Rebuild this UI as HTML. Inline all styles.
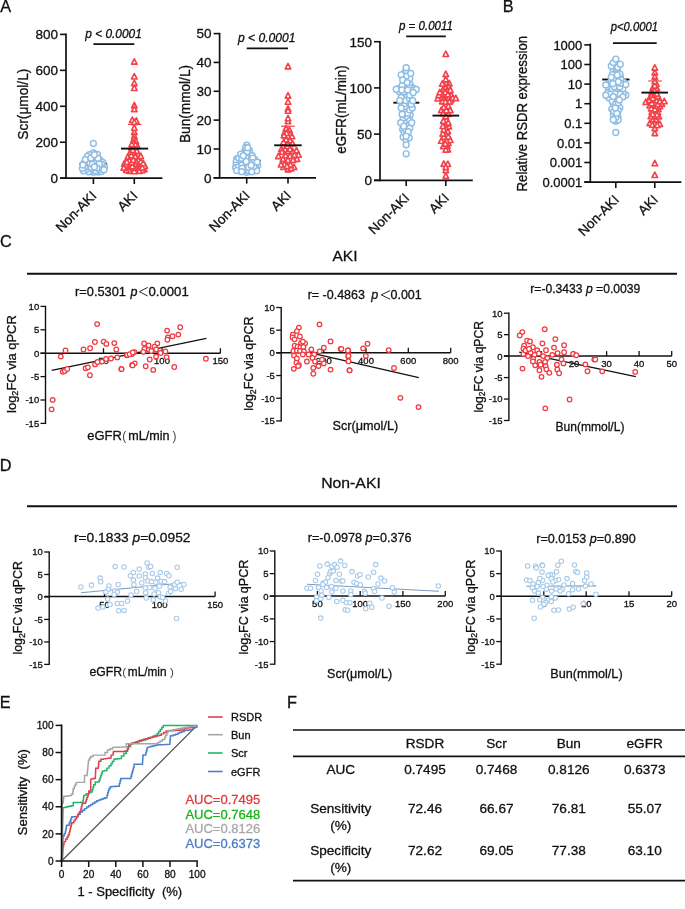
<!DOCTYPE html>
<html><head><meta charset="utf-8"><style>
html,body{margin:0;padding:0;background:#fff;}
svg{display:block;will-change:transform;font-family:"Liberation Sans", sans-serif;}
text{stroke-width:0.3px;}
</style></head><body>
<svg width="685" height="909" viewBox="0 0 685 909" font-family='"Liberation Sans", sans-serif' fill="#111" stroke="#111">
<rect width="685" height="909" fill="#fff" stroke="none"/>
<text x="0.20" y="11.80" font-size="16.3" text-anchor="start" fill="#111" stroke="#111" >A</text>
<text x="502.70" y="11.70" font-size="16.3" text-anchor="start" fill="#111" stroke="#111" >B</text>
<text x="0.00" y="246.50" font-size="16.3" text-anchor="start" fill="#111" stroke="#111" >C</text>
<text x="-0.30" y="470.80" font-size="16.3" text-anchor="start" fill="#111" stroke="#111" >D</text>
<text x="-0.30" y="707.90" font-size="16.3" text-anchor="start" fill="#111" stroke="#111" >E</text>
<text x="286.90" y="707.50" font-size="16.3" text-anchor="start" fill="#111" stroke="#111" >F</text>
<line x1="79.50" y1="163.80" x2="107.20" y2="163.80" stroke="#111" stroke-width="1.9" stroke-linecap="butt"/>
<circle cx="95.90" cy="159.56" r="2.95" fill="#fff" stroke="#8fbde4" stroke-width="1.45"/>
<circle cx="88.90" cy="169.01" r="2.95" fill="#fff" stroke="#8fbde4" stroke-width="1.45"/>
<circle cx="93.40" cy="172.19" r="2.95" fill="#fff" stroke="#8fbde4" stroke-width="1.45"/>
<circle cx="95.90" cy="155.55" r="2.95" fill="#fff" stroke="#8fbde4" stroke-width="1.45"/>
<circle cx="88.90" cy="159.51" r="2.95" fill="#fff" stroke="#8fbde4" stroke-width="1.45"/>
<circle cx="90.90" cy="170.66" r="2.95" fill="#fff" stroke="#8fbde4" stroke-width="1.45"/>
<circle cx="99.90" cy="159.89" r="2.95" fill="#fff" stroke="#8fbde4" stroke-width="1.45"/>
<circle cx="88.40" cy="171.78" r="2.95" fill="#fff" stroke="#8fbde4" stroke-width="1.45"/>
<circle cx="92.40" cy="155.29" r="2.95" fill="#fff" stroke="#8fbde4" stroke-width="1.45"/>
<circle cx="86.40" cy="169.54" r="2.95" fill="#fff" stroke="#8fbde4" stroke-width="1.45"/>
<circle cx="87.90" cy="162.61" r="2.95" fill="#fff" stroke="#8fbde4" stroke-width="1.45"/>
<circle cx="102.90" cy="162.51" r="2.95" fill="#fff" stroke="#8fbde4" stroke-width="1.45"/>
<circle cx="88.40" cy="165.23" r="2.95" fill="#fff" stroke="#8fbde4" stroke-width="1.45"/>
<circle cx="85.90" cy="164.09" r="2.95" fill="#fff" stroke="#8fbde4" stroke-width="1.45"/>
<circle cx="93.90" cy="158.14" r="2.95" fill="#fff" stroke="#8fbde4" stroke-width="1.45"/>
<circle cx="96.90" cy="164.93" r="2.95" fill="#fff" stroke="#8fbde4" stroke-width="1.45"/>
<circle cx="104.40" cy="167.00" r="2.95" fill="#fff" stroke="#8fbde4" stroke-width="1.45"/>
<circle cx="99.40" cy="166.52" r="2.95" fill="#fff" stroke="#8fbde4" stroke-width="1.45"/>
<circle cx="93.40" cy="143.50" r="2.95" fill="#fff" stroke="#8fbde4" stroke-width="1.45"/>
<circle cx="83.90" cy="163.09" r="2.95" fill="#fff" stroke="#8fbde4" stroke-width="1.45"/>
<circle cx="89.90" cy="163.48" r="2.95" fill="#fff" stroke="#8fbde4" stroke-width="1.45"/>
<circle cx="98.40" cy="171.98" r="2.95" fill="#fff" stroke="#8fbde4" stroke-width="1.45"/>
<circle cx="93.40" cy="169.40" r="2.95" fill="#fff" stroke="#8fbde4" stroke-width="1.45"/>
<circle cx="101.40" cy="171.52" r="2.95" fill="#fff" stroke="#8fbde4" stroke-width="1.45"/>
<circle cx="93.40" cy="153.00" r="2.95" fill="#fff" stroke="#8fbde4" stroke-width="1.45"/>
<circle cx="89.40" cy="154.60" r="2.95" fill="#fff" stroke="#8fbde4" stroke-width="1.45"/>
<circle cx="84.90" cy="167.49" r="2.95" fill="#fff" stroke="#8fbde4" stroke-width="1.45"/>
<circle cx="95.90" cy="170.68" r="2.95" fill="#fff" stroke="#8fbde4" stroke-width="1.45"/>
<circle cx="101.90" cy="164.43" r="2.95" fill="#fff" stroke="#8fbde4" stroke-width="1.45"/>
<circle cx="99.40" cy="169.31" r="2.95" fill="#fff" stroke="#8fbde4" stroke-width="1.45"/>
<circle cx="91.40" cy="167.53" r="2.95" fill="#fff" stroke="#8fbde4" stroke-width="1.45"/>
<circle cx="87.40" cy="156.51" r="2.95" fill="#fff" stroke="#8fbde4" stroke-width="1.45"/>
<circle cx="83.40" cy="170.76" r="2.95" fill="#fff" stroke="#8fbde4" stroke-width="1.45"/>
<circle cx="85.40" cy="159.61" r="2.95" fill="#fff" stroke="#8fbde4" stroke-width="1.45"/>
<circle cx="97.40" cy="154.45" r="2.95" fill="#fff" stroke="#8fbde4" stroke-width="1.45"/>
<circle cx="97.40" cy="162.74" r="2.95" fill="#fff" stroke="#8fbde4" stroke-width="1.45"/>
<circle cx="92.40" cy="159.94" r="2.95" fill="#fff" stroke="#8fbde4" stroke-width="1.45"/>
<circle cx="94.90" cy="163.49" r="2.95" fill="#fff" stroke="#8fbde4" stroke-width="1.45"/>
<circle cx="82.40" cy="168.33" r="2.95" fill="#fff" stroke="#8fbde4" stroke-width="1.45"/>
<circle cx="101.90" cy="167.76" r="2.95" fill="#fff" stroke="#8fbde4" stroke-width="1.45"/>
<circle cx="92.40" cy="164.32" r="2.95" fill="#fff" stroke="#8fbde4" stroke-width="1.45"/>
<circle cx="99.40" cy="164.07" r="2.95" fill="#fff" stroke="#8fbde4" stroke-width="1.45"/>
<circle cx="90.90" cy="158.09" r="2.95" fill="#fff" stroke="#8fbde4" stroke-width="1.45"/>
<circle cx="96.90" cy="167.88" r="2.95" fill="#fff" stroke="#8fbde4" stroke-width="1.45"/>
<circle cx="97.90" cy="158.25" r="2.95" fill="#fff" stroke="#8fbde4" stroke-width="1.45"/>
<circle cx="82.90" cy="165.03" r="2.95" fill="#fff" stroke="#8fbde4" stroke-width="1.45"/>
<circle cx="94.40" cy="166.88" r="2.95" fill="#fff" stroke="#8fbde4" stroke-width="1.45"/>
<circle cx="103.90" cy="169.74" r="2.95" fill="#fff" stroke="#8fbde4" stroke-width="1.45"/>
<circle cx="94.40" cy="154.75" r="2.95" fill="#fff" stroke="#8fbde4" stroke-width="1.45"/>
<polygon points="136.30,117.81 139.05,123.21 133.55,123.21" fill="#fff" stroke="#f2424a" stroke-width="1.65" stroke-linejoin="round"/>
<polygon points="137.80,160.06 140.55,165.46 135.05,165.46" fill="#fff" stroke="#f2424a" stroke-width="1.65" stroke-linejoin="round"/>
<polygon points="131.30,144.43 134.05,149.83 128.55,149.83" fill="#fff" stroke="#f2424a" stroke-width="1.65" stroke-linejoin="round"/>
<polygon points="136.80,163.99 139.55,169.39 134.05,169.39" fill="#fff" stroke="#f2424a" stroke-width="1.65" stroke-linejoin="round"/>
<polygon points="140.30,161.45 143.05,166.85 137.55,166.85" fill="#fff" stroke="#f2424a" stroke-width="1.65" stroke-linejoin="round"/>
<polygon points="132.30,117.05 135.05,122.45 129.55,122.45" fill="#fff" stroke="#f2424a" stroke-width="1.65" stroke-linejoin="round"/>
<polygon points="137.80,151.00 140.55,156.40 135.05,156.40" fill="#fff" stroke="#f2424a" stroke-width="1.65" stroke-linejoin="round"/>
<polygon points="139.80,164.98 142.55,170.38 137.05,170.38" fill="#fff" stroke="#f2424a" stroke-width="1.65" stroke-linejoin="round"/>
<polygon points="134.30,129.15 137.05,134.55 131.55,134.55" fill="#fff" stroke="#f2424a" stroke-width="1.65" stroke-linejoin="round"/>
<polygon points="134.30,102.45 137.05,107.85 131.55,107.85" fill="#fff" stroke="#f2424a" stroke-width="1.65" stroke-linejoin="round"/>
<polygon points="144.30,166.21 147.05,171.61 141.55,171.61" fill="#fff" stroke="#f2424a" stroke-width="1.65" stroke-linejoin="round"/>
<polygon points="135.30,144.83 138.05,150.23 132.55,150.23" fill="#fff" stroke="#f2424a" stroke-width="1.65" stroke-linejoin="round"/>
<polygon points="130.30,149.29 133.05,154.69 127.55,154.69" fill="#fff" stroke="#f2424a" stroke-width="1.65" stroke-linejoin="round"/>
<polygon points="134.30,149.75 137.05,155.15 131.55,155.15" fill="#fff" stroke="#f2424a" stroke-width="1.65" stroke-linejoin="round"/>
<polygon points="136.80,148.00 139.55,153.40 134.05,153.40" fill="#fff" stroke="#f2424a" stroke-width="1.65" stroke-linejoin="round"/>
<polygon points="136.80,166.85 139.55,172.25 134.05,172.25" fill="#fff" stroke="#f2424a" stroke-width="1.65" stroke-linejoin="round"/>
<polygon points="131.80,166.54 134.55,171.94 129.05,171.94" fill="#fff" stroke="#f2424a" stroke-width="1.65" stroke-linejoin="round"/>
<polygon points="142.30,167.18 145.05,172.58 139.55,172.58" fill="#fff" stroke="#f2424a" stroke-width="1.65" stroke-linejoin="round"/>
<polygon points="124.30,160.72 127.05,166.12 121.55,166.12" fill="#fff" stroke="#f2424a" stroke-width="1.65" stroke-linejoin="round"/>
<polygon points="129.30,161.16 132.05,166.56 126.55,166.56" fill="#fff" stroke="#f2424a" stroke-width="1.65" stroke-linejoin="round"/>
<polygon points="128.80,164.77 131.55,170.17 126.05,170.17" fill="#fff" stroke="#f2424a" stroke-width="1.65" stroke-linejoin="round"/>
<polygon points="134.30,73.55 137.05,78.95 131.55,78.95" fill="#fff" stroke="#f2424a" stroke-width="1.65" stroke-linejoin="round"/>
<polygon points="134.30,106.15 137.05,111.55 131.55,111.55" fill="#fff" stroke="#f2424a" stroke-width="1.65" stroke-linejoin="round"/>
<polygon points="134.30,58.75 137.05,64.15 131.55,64.15" fill="#fff" stroke="#f2424a" stroke-width="1.65" stroke-linejoin="round"/>
<polygon points="139.30,168.01 142.05,173.41 136.55,173.41" fill="#fff" stroke="#f2424a" stroke-width="1.65" stroke-linejoin="round"/>
<polygon points="144.80,162.97 147.55,168.37 142.05,168.37" fill="#fff" stroke="#f2424a" stroke-width="1.65" stroke-linejoin="round"/>
<polygon points="134.30,133.25 137.05,138.65 131.55,138.65" fill="#fff" stroke="#f2424a" stroke-width="1.65" stroke-linejoin="round"/>
<polygon points="127.80,153.89 130.55,159.29 125.05,159.29" fill="#fff" stroke="#f2424a" stroke-width="1.65" stroke-linejoin="round"/>
<polygon points="138.30,156.51 141.05,161.91 135.55,161.91" fill="#fff" stroke="#f2424a" stroke-width="1.65" stroke-linejoin="round"/>
<polygon points="134.80,160.88 137.55,166.28 132.05,166.28" fill="#fff" stroke="#f2424a" stroke-width="1.65" stroke-linejoin="round"/>
<polygon points="129.30,167.90 132.05,173.30 126.55,173.30" fill="#fff" stroke="#f2424a" stroke-width="1.65" stroke-linejoin="round"/>
<polygon points="134.30,165.98 137.05,171.38 131.55,171.38" fill="#fff" stroke="#f2424a" stroke-width="1.65" stroke-linejoin="round"/>
<polygon points="133.80,136.15 136.55,141.55 131.05,141.55" fill="#fff" stroke="#f2424a" stroke-width="1.65" stroke-linejoin="round"/>
<polygon points="132.30,163.42 135.05,168.82 129.55,168.82" fill="#fff" stroke="#f2424a" stroke-width="1.65" stroke-linejoin="round"/>
<polygon points="129.30,157.58 132.05,162.98 126.55,162.98" fill="#fff" stroke="#f2424a" stroke-width="1.65" stroke-linejoin="round"/>
<polygon points="126.30,163.02 129.05,168.42 123.55,168.42" fill="#fff" stroke="#f2424a" stroke-width="1.65" stroke-linejoin="round"/>
<polygon points="134.30,119.15 137.05,124.55 131.55,124.55" fill="#fff" stroke="#f2424a" stroke-width="1.65" stroke-linejoin="round"/>
<polygon points="131.30,152.45 134.05,157.85 128.55,157.85" fill="#fff" stroke="#f2424a" stroke-width="1.65" stroke-linejoin="round"/>
<polygon points="135.30,153.40 138.05,158.80 132.55,158.80" fill="#fff" stroke="#f2424a" stroke-width="1.65" stroke-linejoin="round"/>
<polygon points="133.30,142.90 136.05,148.30 130.55,148.30" fill="#fff" stroke="#f2424a" stroke-width="1.65" stroke-linejoin="round"/>
<polygon points="126.80,158.83 129.55,164.23 124.05,164.23" fill="#fff" stroke="#f2424a" stroke-width="1.65" stroke-linejoin="round"/>
<polygon points="137.30,142.97 140.05,148.37 134.55,148.37" fill="#fff" stroke="#f2424a" stroke-width="1.65" stroke-linejoin="round"/>
<polygon points="126.30,166.90 129.05,172.30 123.55,172.30" fill="#fff" stroke="#f2424a" stroke-width="1.65" stroke-linejoin="round"/>
<polygon points="142.30,164.66 145.05,170.06 139.55,170.06" fill="#fff" stroke="#f2424a" stroke-width="1.65" stroke-linejoin="round"/>
<polygon points="134.30,80.15 137.05,85.55 131.55,85.55" fill="#fff" stroke="#f2424a" stroke-width="1.65" stroke-linejoin="round"/>
<polygon points="123.80,164.78 126.55,170.18 121.05,170.18" fill="#fff" stroke="#f2424a" stroke-width="1.65" stroke-linejoin="round"/>
<polygon points="134.30,168.34 137.05,173.74 131.55,173.74" fill="#fff" stroke="#f2424a" stroke-width="1.65" stroke-linejoin="round"/>
<polygon points="140.80,158.70 143.55,164.10 138.05,164.10" fill="#fff" stroke="#f2424a" stroke-width="1.65" stroke-linejoin="round"/>
<polygon points="135.80,138.21 138.55,143.61 133.05,143.61" fill="#fff" stroke="#f2424a" stroke-width="1.65" stroke-linejoin="round"/>
<polygon points="143.30,160.39 146.05,165.79 140.55,165.79" fill="#fff" stroke="#f2424a" stroke-width="1.65" stroke-linejoin="round"/>
<polygon points="133.80,139.62 136.55,145.02 131.05,145.02" fill="#fff" stroke="#f2424a" stroke-width="1.65" stroke-linejoin="round"/>
<polygon points="132.80,147.19 135.55,152.59 130.05,152.59" fill="#fff" stroke="#f2424a" stroke-width="1.65" stroke-linejoin="round"/>
<polygon points="134.30,85.05 137.05,90.45 131.55,90.45" fill="#fff" stroke="#f2424a" stroke-width="1.65" stroke-linejoin="round"/>
<polygon points="135.80,158.34 138.55,163.74 133.05,163.74" fill="#fff" stroke="#f2424a" stroke-width="1.65" stroke-linejoin="round"/>
<polygon points="135.30,141.43 138.05,146.83 132.55,146.83" fill="#fff" stroke="#f2424a" stroke-width="1.65" stroke-linejoin="round"/>
<polygon points="131.80,159.40 134.55,164.80 129.05,164.80" fill="#fff" stroke="#f2424a" stroke-width="1.65" stroke-linejoin="round"/>
<polygon points="134.30,124.85 137.05,130.25 131.55,130.25" fill="#fff" stroke="#f2424a" stroke-width="1.65" stroke-linejoin="round"/>
<polygon points="131.80,141.29 134.55,146.69 129.05,146.69" fill="#fff" stroke="#f2424a" stroke-width="1.65" stroke-linejoin="round"/>
<polygon points="133.30,156.97 136.05,162.37 130.55,162.37" fill="#fff" stroke="#f2424a" stroke-width="1.65" stroke-linejoin="round"/>
<polygon points="140.80,153.21 143.55,158.61 138.05,158.61" fill="#fff" stroke="#f2424a" stroke-width="1.65" stroke-linejoin="round"/>
<line x1="128.00" y1="124.40" x2="141.30" y2="124.40" stroke="#f2424a" stroke-width="1.2" stroke-linecap="butt"/>
<line x1="121.00" y1="148.60" x2="148.20" y2="148.60" stroke="#111" stroke-width="1.9" stroke-linecap="butt"/>
<line x1="66.00" y1="33.60" x2="66.00" y2="179.10" stroke="#111" stroke-width="1.7" stroke-linecap="butt"/>
<line x1="60.00" y1="178.20" x2="162.40" y2="178.20" stroke="#111" stroke-width="1.8" stroke-linecap="butt"/>
<line x1="60.00" y1="178.20" x2="66.00" y2="178.20" stroke="#111" stroke-width="1.6" stroke-linecap="butt"/>
<text x="58.00" y="183.06" font-size="13.5" text-anchor="end" fill="#111" stroke="#111" >0</text>
<line x1="60.00" y1="142.25" x2="66.00" y2="142.25" stroke="#111" stroke-width="1.6" stroke-linecap="butt"/>
<text x="58.00" y="147.11" font-size="13.5" text-anchor="end" fill="#111" stroke="#111" >200</text>
<line x1="60.00" y1="106.30" x2="66.00" y2="106.30" stroke="#111" stroke-width="1.6" stroke-linecap="butt"/>
<text x="58.00" y="111.16" font-size="13.5" text-anchor="end" fill="#111" stroke="#111" >400</text>
<line x1="60.00" y1="70.35" x2="66.00" y2="70.35" stroke="#111" stroke-width="1.6" stroke-linecap="butt"/>
<text x="58.00" y="75.21" font-size="13.5" text-anchor="end" fill="#111" stroke="#111" >600</text>
<line x1="60.00" y1="34.40" x2="66.00" y2="34.40" stroke="#111" stroke-width="1.6" stroke-linecap="butt"/>
<text x="58.00" y="39.26" font-size="13.5" text-anchor="end" fill="#111" stroke="#111" >800</text>
<line x1="93.40" y1="178.20" x2="93.40" y2="184.00" stroke="#111" stroke-width="1.6" stroke-linecap="butt"/>
<line x1="134.30" y1="178.20" x2="134.30" y2="184.00" stroke="#111" stroke-width="1.6" stroke-linecap="butt"/>
<text transform="translate(97.40,196.70) rotate(-45)" font-size="13.5" text-anchor="end">Non-AKI</text>
<text transform="translate(138.30,196.70) rotate(-45)" font-size="13.5" text-anchor="end">AKI</text>
<text transform="translate(28.30,104.20) rotate(-90)" font-size="14" text-anchor="middle" textLength="71.0" lengthAdjust="spacingAndGlyphs">Scr(μmol/L)</text>
<text x="85.30" y="38.20" font-size="12" font-style="italic" textLength="56.5" lengthAdjust="spacingAndGlyphs" xml:space="preserve">p &lt; 0.0001</text>
<line x1="93.40" y1="44.20" x2="134.30" y2="44.20" stroke="#111" stroke-width="1.8" stroke-linecap="butt"/>
<line x1="233.00" y1="160.80" x2="260.70" y2="160.80" stroke="#111" stroke-width="1.9" stroke-linecap="butt"/>
<circle cx="247.20" cy="155.46" r="2.95" fill="#fff" stroke="#8fbde4" stroke-width="1.45"/>
<circle cx="244.70" cy="152.32" r="2.95" fill="#fff" stroke="#8fbde4" stroke-width="1.45"/>
<circle cx="257.70" cy="165.62" r="2.95" fill="#fff" stroke="#8fbde4" stroke-width="1.45"/>
<circle cx="245.20" cy="149.37" r="2.95" fill="#fff" stroke="#8fbde4" stroke-width="1.45"/>
<circle cx="249.20" cy="150.27" r="2.95" fill="#fff" stroke="#8fbde4" stroke-width="1.45"/>
<circle cx="249.70" cy="153.03" r="2.95" fill="#fff" stroke="#8fbde4" stroke-width="1.45"/>
<circle cx="254.20" cy="170.53" r="2.95" fill="#fff" stroke="#8fbde4" stroke-width="1.45"/>
<circle cx="246.70" cy="172.27" r="2.95" fill="#fff" stroke="#8fbde4" stroke-width="1.45"/>
<circle cx="244.20" cy="170.59" r="2.95" fill="#fff" stroke="#8fbde4" stroke-width="1.45"/>
<circle cx="246.70" cy="165.15" r="2.95" fill="#fff" stroke="#8fbde4" stroke-width="1.45"/>
<circle cx="247.70" cy="159.06" r="2.95" fill="#fff" stroke="#8fbde4" stroke-width="1.45"/>
<circle cx="244.70" cy="167.14" r="2.95" fill="#fff" stroke="#8fbde4" stroke-width="1.45"/>
<circle cx="249.70" cy="156.59" r="2.95" fill="#fff" stroke="#8fbde4" stroke-width="1.45"/>
<circle cx="236.70" cy="159.04" r="2.95" fill="#fff" stroke="#8fbde4" stroke-width="1.45"/>
<circle cx="246.70" cy="145.20" r="2.95" fill="#fff" stroke="#8fbde4" stroke-width="1.45"/>
<circle cx="247.20" cy="151.62" r="2.95" fill="#fff" stroke="#8fbde4" stroke-width="1.45"/>
<circle cx="239.20" cy="163.38" r="2.95" fill="#fff" stroke="#8fbde4" stroke-width="1.45"/>
<circle cx="242.20" cy="161.54" r="2.95" fill="#fff" stroke="#8fbde4" stroke-width="1.45"/>
<circle cx="255.70" cy="168.10" r="2.95" fill="#fff" stroke="#8fbde4" stroke-width="1.45"/>
<circle cx="252.20" cy="155.63" r="2.95" fill="#fff" stroke="#8fbde4" stroke-width="1.45"/>
<circle cx="239.20" cy="160.13" r="2.95" fill="#fff" stroke="#8fbde4" stroke-width="1.45"/>
<circle cx="255.20" cy="164.38" r="2.95" fill="#fff" stroke="#8fbde4" stroke-width="1.45"/>
<circle cx="250.70" cy="159.51" r="2.95" fill="#fff" stroke="#8fbde4" stroke-width="1.45"/>
<circle cx="254.70" cy="159.50" r="2.95" fill="#fff" stroke="#8fbde4" stroke-width="1.45"/>
<circle cx="246.70" cy="169.26" r="2.95" fill="#fff" stroke="#8fbde4" stroke-width="1.45"/>
<circle cx="244.20" cy="159.38" r="2.95" fill="#fff" stroke="#8fbde4" stroke-width="1.45"/>
<circle cx="245.70" cy="147.43" r="2.95" fill="#fff" stroke="#8fbde4" stroke-width="1.45"/>
<circle cx="236.20" cy="161.83" r="2.95" fill="#fff" stroke="#8fbde4" stroke-width="1.45"/>
<circle cx="251.70" cy="168.42" r="2.95" fill="#fff" stroke="#8fbde4" stroke-width="1.45"/>
<circle cx="252.70" cy="158.26" r="2.95" fill="#fff" stroke="#8fbde4" stroke-width="1.45"/>
<circle cx="249.20" cy="170.89" r="2.95" fill="#fff" stroke="#8fbde4" stroke-width="1.45"/>
<circle cx="236.20" cy="165.08" r="2.95" fill="#fff" stroke="#8fbde4" stroke-width="1.45"/>
<circle cx="238.70" cy="158.10" r="2.95" fill="#fff" stroke="#8fbde4" stroke-width="1.45"/>
<circle cx="245.70" cy="157.55" r="2.95" fill="#fff" stroke="#8fbde4" stroke-width="1.45"/>
<circle cx="256.70" cy="170.73" r="2.95" fill="#fff" stroke="#8fbde4" stroke-width="1.45"/>
<circle cx="239.70" cy="169.63" r="2.95" fill="#fff" stroke="#8fbde4" stroke-width="1.45"/>
<circle cx="240.70" cy="154.23" r="2.95" fill="#fff" stroke="#8fbde4" stroke-width="1.45"/>
<circle cx="235.70" cy="167.75" r="2.95" fill="#fff" stroke="#8fbde4" stroke-width="1.45"/>
<circle cx="238.70" cy="166.73" r="2.95" fill="#fff" stroke="#8fbde4" stroke-width="1.45"/>
<circle cx="244.20" cy="164.08" r="2.95" fill="#fff" stroke="#8fbde4" stroke-width="1.45"/>
<circle cx="241.70" cy="165.32" r="2.95" fill="#fff" stroke="#8fbde4" stroke-width="1.45"/>
<circle cx="241.70" cy="158.33" r="2.95" fill="#fff" stroke="#8fbde4" stroke-width="1.45"/>
<circle cx="253.70" cy="166.60" r="2.95" fill="#fff" stroke="#8fbde4" stroke-width="1.45"/>
<circle cx="252.70" cy="162.68" r="2.95" fill="#fff" stroke="#8fbde4" stroke-width="1.45"/>
<circle cx="257.20" cy="162.12" r="2.95" fill="#fff" stroke="#8fbde4" stroke-width="1.45"/>
<circle cx="249.20" cy="162.86" r="2.95" fill="#fff" stroke="#8fbde4" stroke-width="1.45"/>
<circle cx="248.70" cy="167.18" r="2.95" fill="#fff" stroke="#8fbde4" stroke-width="1.45"/>
<circle cx="251.20" cy="165.22" r="2.95" fill="#fff" stroke="#8fbde4" stroke-width="1.45"/>
<circle cx="243.20" cy="155.83" r="2.95" fill="#fff" stroke="#8fbde4" stroke-width="1.45"/>
<circle cx="251.70" cy="171.78" r="2.95" fill="#fff" stroke="#8fbde4" stroke-width="1.45"/>
<circle cx="246.20" cy="161.58" r="2.95" fill="#fff" stroke="#8fbde4" stroke-width="1.45"/>
<circle cx="236.70" cy="170.59" r="2.95" fill="#fff" stroke="#8fbde4" stroke-width="1.45"/>
<circle cx="242.20" cy="168.21" r="2.95" fill="#fff" stroke="#8fbde4" stroke-width="1.45"/>
<circle cx="247.70" cy="147.76" r="2.95" fill="#fff" stroke="#8fbde4" stroke-width="1.45"/>
<circle cx="241.70" cy="171.65" r="2.95" fill="#fff" stroke="#8fbde4" stroke-width="1.45"/>
<polygon points="283.50,164.14 286.25,169.54 280.75,169.54" fill="#fff" stroke="#f2424a" stroke-width="1.65" stroke-linejoin="round"/>
<polygon points="289.50,127.16 292.25,132.56 286.75,132.56" fill="#fff" stroke="#f2424a" stroke-width="1.65" stroke-linejoin="round"/>
<polygon points="288.00,92.65 290.75,98.05 285.25,98.05" fill="#fff" stroke="#f2424a" stroke-width="1.65" stroke-linejoin="round"/>
<polygon points="290.00,131.12 292.75,136.52 287.25,136.52" fill="#fff" stroke="#f2424a" stroke-width="1.65" stroke-linejoin="round"/>
<polygon points="285.00,146.30 287.75,151.70 282.25,151.70" fill="#fff" stroke="#f2424a" stroke-width="1.65" stroke-linejoin="round"/>
<polygon points="297.00,155.90 299.75,161.30 294.25,161.30" fill="#fff" stroke="#f2424a" stroke-width="1.65" stroke-linejoin="round"/>
<polygon points="286.00,125.51 288.75,130.91 283.25,130.91" fill="#fff" stroke="#f2424a" stroke-width="1.65" stroke-linejoin="round"/>
<polygon points="285.50,152.52 288.25,157.92 282.75,157.92" fill="#fff" stroke="#f2424a" stroke-width="1.65" stroke-linejoin="round"/>
<polygon points="288.00,140.60 290.75,146.00 285.25,146.00" fill="#fff" stroke="#f2424a" stroke-width="1.65" stroke-linejoin="round"/>
<polygon points="284.50,129.99 287.25,135.39 281.75,135.39" fill="#fff" stroke="#f2424a" stroke-width="1.65" stroke-linejoin="round"/>
<polygon points="292.00,133.39 294.75,138.79 289.25,138.79" fill="#fff" stroke="#f2424a" stroke-width="1.65" stroke-linejoin="round"/>
<polygon points="288.00,105.75 290.75,111.15 285.25,111.15" fill="#fff" stroke="#f2424a" stroke-width="1.65" stroke-linejoin="round"/>
<polygon points="290.00,137.42 292.75,142.82 287.25,142.82" fill="#fff" stroke="#f2424a" stroke-width="1.65" stroke-linejoin="round"/>
<polygon points="288.00,133.02 290.75,138.42 285.25,138.42" fill="#fff" stroke="#f2424a" stroke-width="1.65" stroke-linejoin="round"/>
<polygon points="286.00,136.40 288.75,141.80 283.25,141.80" fill="#fff" stroke="#f2424a" stroke-width="1.65" stroke-linejoin="round"/>
<polygon points="288.00,107.85 290.75,113.25 285.25,113.25" fill="#fff" stroke="#f2424a" stroke-width="1.65" stroke-linejoin="round"/>
<polygon points="281.50,146.00 284.25,151.40 278.75,151.40" fill="#fff" stroke="#f2424a" stroke-width="1.65" stroke-linejoin="round"/>
<polygon points="296.50,147.48 299.25,152.88 293.75,152.88" fill="#fff" stroke="#f2424a" stroke-width="1.65" stroke-linejoin="round"/>
<polygon points="284.50,161.19 287.25,166.59 281.75,166.59" fill="#fff" stroke="#f2424a" stroke-width="1.65" stroke-linejoin="round"/>
<polygon points="288.00,166.43 290.75,171.83 285.25,171.83" fill="#fff" stroke="#f2424a" stroke-width="1.65" stroke-linejoin="round"/>
<polygon points="294.00,164.00 296.75,169.40 291.25,169.40" fill="#fff" stroke="#f2424a" stroke-width="1.65" stroke-linejoin="round"/>
<polygon points="290.00,152.95 292.75,158.35 287.25,158.35" fill="#fff" stroke="#f2424a" stroke-width="1.65" stroke-linejoin="round"/>
<polygon points="286.50,130.06 289.25,135.46 283.75,135.46" fill="#fff" stroke="#f2424a" stroke-width="1.65" stroke-linejoin="round"/>
<polygon points="291.00,165.52 293.75,170.92 288.25,170.92" fill="#fff" stroke="#f2424a" stroke-width="1.65" stroke-linejoin="round"/>
<polygon points="290.50,161.74 293.25,167.14 287.75,167.14" fill="#fff" stroke="#f2424a" stroke-width="1.65" stroke-linejoin="round"/>
<polygon points="281.00,161.63 283.75,167.03 278.25,167.03" fill="#fff" stroke="#f2424a" stroke-width="1.65" stroke-linejoin="round"/>
<polygon points="288.00,148.39 290.75,153.79 285.25,153.79" fill="#fff" stroke="#f2424a" stroke-width="1.65" stroke-linejoin="round"/>
<polygon points="288.00,63.45 290.75,68.85 285.25,68.85" fill="#fff" stroke="#f2424a" stroke-width="1.65" stroke-linejoin="round"/>
<polygon points="287.00,163.24 289.75,168.64 284.25,168.64" fill="#fff" stroke="#f2424a" stroke-width="1.65" stroke-linejoin="round"/>
<polygon points="288.00,157.25 290.75,162.65 285.25,162.65" fill="#fff" stroke="#f2424a" stroke-width="1.65" stroke-linejoin="round"/>
<polygon points="293.00,156.94 295.75,162.34 290.25,162.34" fill="#fff" stroke="#f2424a" stroke-width="1.65" stroke-linejoin="round"/>
<polygon points="292.50,148.09 295.25,153.49 289.75,153.49" fill="#fff" stroke="#f2424a" stroke-width="1.65" stroke-linejoin="round"/>
<polygon points="290.00,146.20 292.75,151.60 287.25,151.60" fill="#fff" stroke="#f2424a" stroke-width="1.65" stroke-linejoin="round"/>
<polygon points="283.00,156.02 285.75,161.42 280.25,161.42" fill="#fff" stroke="#f2424a" stroke-width="1.65" stroke-linejoin="round"/>
<polygon points="288.00,118.15 290.75,123.55 285.25,123.55" fill="#fff" stroke="#f2424a" stroke-width="1.65" stroke-linejoin="round"/>
<polygon points="284.00,132.52 286.75,137.92 281.25,137.92" fill="#fff" stroke="#f2424a" stroke-width="1.65" stroke-linejoin="round"/>
<polygon points="283.50,139.34 286.25,144.74 280.75,144.74" fill="#fff" stroke="#f2424a" stroke-width="1.65" stroke-linejoin="round"/>
<polygon points="278.50,153.24 281.25,158.64 275.75,158.64" fill="#fff" stroke="#f2424a" stroke-width="1.65" stroke-linejoin="round"/>
<polygon points="298.50,151.83 301.25,157.23 295.75,157.23" fill="#fff" stroke="#f2424a" stroke-width="1.65" stroke-linejoin="round"/>
<polygon points="288.00,98.85 290.75,104.25 285.25,104.25" fill="#fff" stroke="#f2424a" stroke-width="1.65" stroke-linejoin="round"/>
<polygon points="294.50,151.98 297.25,157.38 291.75,157.38" fill="#fff" stroke="#f2424a" stroke-width="1.65" stroke-linejoin="round"/>
<polygon points="292.50,140.57 295.25,145.97 289.75,145.97" fill="#fff" stroke="#f2424a" stroke-width="1.65" stroke-linejoin="round"/>
<polygon points="288.00,115.35 290.75,120.75 285.25,120.75" fill="#fff" stroke="#f2424a" stroke-width="1.65" stroke-linejoin="round"/>
<polygon points="282.00,148.86 284.75,154.26 279.25,154.26" fill="#fff" stroke="#f2424a" stroke-width="1.65" stroke-linejoin="round"/>
<line x1="281.00" y1="126.20" x2="294.80" y2="126.20" stroke="#f2424a" stroke-width="1.2" stroke-linecap="butt"/>
<line x1="274.20" y1="145.30" x2="301.70" y2="145.30" stroke="#111" stroke-width="1.9" stroke-linecap="butt"/>
<line x1="219.60" y1="32.80" x2="219.60" y2="178.70" stroke="#111" stroke-width="1.7" stroke-linecap="butt"/>
<line x1="213.60" y1="177.80" x2="316.00" y2="177.80" stroke="#111" stroke-width="1.8" stroke-linecap="butt"/>
<line x1="213.60" y1="177.80" x2="219.60" y2="177.80" stroke="#111" stroke-width="1.6" stroke-linecap="butt"/>
<text x="211.60" y="182.66" font-size="13.5" text-anchor="end" fill="#111" stroke="#111" >0</text>
<line x1="213.60" y1="148.96" x2="219.60" y2="148.96" stroke="#111" stroke-width="1.6" stroke-linecap="butt"/>
<text x="211.60" y="153.82" font-size="13.5" text-anchor="end" fill="#111" stroke="#111" >10</text>
<line x1="213.60" y1="120.12" x2="219.60" y2="120.12" stroke="#111" stroke-width="1.6" stroke-linecap="butt"/>
<text x="211.60" y="124.98" font-size="13.5" text-anchor="end" fill="#111" stroke="#111" >20</text>
<line x1="213.60" y1="91.28" x2="219.60" y2="91.28" stroke="#111" stroke-width="1.6" stroke-linecap="butt"/>
<text x="211.60" y="96.14" font-size="13.5" text-anchor="end" fill="#111" stroke="#111" >30</text>
<line x1="213.60" y1="62.44" x2="219.60" y2="62.44" stroke="#111" stroke-width="1.6" stroke-linecap="butt"/>
<text x="211.60" y="67.30" font-size="13.5" text-anchor="end" fill="#111" stroke="#111" >40</text>
<line x1="213.60" y1="33.60" x2="219.60" y2="33.60" stroke="#111" stroke-width="1.6" stroke-linecap="butt"/>
<text x="211.60" y="38.46" font-size="13.5" text-anchor="end" fill="#111" stroke="#111" >50</text>
<line x1="246.70" y1="177.80" x2="246.70" y2="183.60" stroke="#111" stroke-width="1.6" stroke-linecap="butt"/>
<line x1="288.00" y1="177.80" x2="288.00" y2="183.60" stroke="#111" stroke-width="1.6" stroke-linecap="butt"/>
<text transform="translate(250.70,196.30) rotate(-45)" font-size="13.5" text-anchor="end">Non-AKI</text>
<text transform="translate(292.00,196.30) rotate(-45)" font-size="13.5" text-anchor="end">AKI</text>
<text transform="translate(190.10,104.00) rotate(-90)" font-size="14" text-anchor="middle" textLength="78.1" lengthAdjust="spacingAndGlyphs">Bun(mmol/L)</text>
<text x="238.00" y="42.30" font-size="12" font-style="italic" textLength="57.4" lengthAdjust="spacingAndGlyphs" xml:space="preserve">p &lt; 0.0001</text>
<line x1="246.70" y1="48.40" x2="288.00" y2="48.40" stroke="#111" stroke-width="1.8" stroke-linecap="butt"/>
<line x1="393.30" y1="102.70" x2="419.30" y2="102.70" stroke="#111" stroke-width="1.9" stroke-linecap="butt"/>
<circle cx="403.70" cy="122.42" r="2.95" fill="#fff" stroke="#8fbde4" stroke-width="1.45"/>
<circle cx="404.20" cy="73.38" r="2.95" fill="#fff" stroke="#8fbde4" stroke-width="1.45"/>
<circle cx="408.70" cy="106.42" r="2.95" fill="#fff" stroke="#8fbde4" stroke-width="1.45"/>
<circle cx="406.70" cy="109.99" r="2.95" fill="#fff" stroke="#8fbde4" stroke-width="1.45"/>
<circle cx="406.20" cy="85.13" r="2.95" fill="#fff" stroke="#8fbde4" stroke-width="1.45"/>
<circle cx="403.20" cy="137.03" r="2.95" fill="#fff" stroke="#8fbde4" stroke-width="1.45"/>
<circle cx="401.20" cy="93.85" r="2.95" fill="#fff" stroke="#8fbde4" stroke-width="1.45"/>
<circle cx="406.70" cy="126.60" r="2.95" fill="#fff" stroke="#8fbde4" stroke-width="1.45"/>
<circle cx="409.70" cy="78.64" r="2.95" fill="#fff" stroke="#8fbde4" stroke-width="1.45"/>
<circle cx="410.20" cy="84.57" r="2.95" fill="#fff" stroke="#8fbde4" stroke-width="1.45"/>
<circle cx="402.70" cy="129.51" r="2.95" fill="#fff" stroke="#8fbde4" stroke-width="1.45"/>
<circle cx="406.20" cy="91.33" r="2.95" fill="#fff" stroke="#8fbde4" stroke-width="1.45"/>
<circle cx="399.20" cy="91.57" r="2.95" fill="#fff" stroke="#8fbde4" stroke-width="1.45"/>
<circle cx="405.70" cy="94.47" r="2.95" fill="#fff" stroke="#8fbde4" stroke-width="1.45"/>
<circle cx="413.20" cy="88.12" r="2.95" fill="#fff" stroke="#8fbde4" stroke-width="1.45"/>
<circle cx="406.20" cy="140.00" r="2.95" fill="#fff" stroke="#8fbde4" stroke-width="1.45"/>
<circle cx="402.70" cy="105.96" r="2.95" fill="#fff" stroke="#8fbde4" stroke-width="1.45"/>
<circle cx="401.70" cy="103.58" r="2.95" fill="#fff" stroke="#8fbde4" stroke-width="1.45"/>
<circle cx="399.20" cy="88.41" r="2.95" fill="#fff" stroke="#8fbde4" stroke-width="1.45"/>
<circle cx="406.20" cy="76.00" r="2.95" fill="#fff" stroke="#8fbde4" stroke-width="1.45"/>
<circle cx="407.20" cy="122.52" r="2.95" fill="#fff" stroke="#8fbde4" stroke-width="1.45"/>
<circle cx="406.70" cy="104.23" r="2.95" fill="#fff" stroke="#8fbde4" stroke-width="1.45"/>
<circle cx="404.70" cy="111.58" r="2.95" fill="#fff" stroke="#8fbde4" stroke-width="1.45"/>
<circle cx="409.70" cy="87.61" r="2.95" fill="#fff" stroke="#8fbde4" stroke-width="1.45"/>
<circle cx="406.20" cy="70.50" r="2.95" fill="#fff" stroke="#8fbde4" stroke-width="1.45"/>
<circle cx="401.20" cy="74.83" r="2.95" fill="#fff" stroke="#8fbde4" stroke-width="1.45"/>
<circle cx="409.20" cy="102.36" r="2.95" fill="#fff" stroke="#8fbde4" stroke-width="1.45"/>
<circle cx="411.20" cy="90.29" r="2.95" fill="#fff" stroke="#8fbde4" stroke-width="1.45"/>
<circle cx="410.70" cy="73.43" r="2.95" fill="#fff" stroke="#8fbde4" stroke-width="1.45"/>
<circle cx="405.20" cy="125.36" r="2.95" fill="#fff" stroke="#8fbde4" stroke-width="1.45"/>
<circle cx="405.20" cy="106.46" r="2.95" fill="#fff" stroke="#8fbde4" stroke-width="1.45"/>
<circle cx="405.70" cy="120.52" r="2.95" fill="#fff" stroke="#8fbde4" stroke-width="1.45"/>
<circle cx="403.20" cy="95.22" r="2.95" fill="#fff" stroke="#8fbde4" stroke-width="1.45"/>
<circle cx="403.20" cy="117.93" r="2.95" fill="#fff" stroke="#8fbde4" stroke-width="1.45"/>
<circle cx="404.20" cy="132.19" r="2.95" fill="#fff" stroke="#8fbde4" stroke-width="1.45"/>
<circle cx="410.20" cy="114.63" r="2.95" fill="#fff" stroke="#8fbde4" stroke-width="1.45"/>
<circle cx="405.20" cy="115.20" r="2.95" fill="#fff" stroke="#8fbde4" stroke-width="1.45"/>
<circle cx="404.20" cy="103.75" r="2.95" fill="#fff" stroke="#8fbde4" stroke-width="1.45"/>
<circle cx="407.70" cy="117.47" r="2.95" fill="#fff" stroke="#8fbde4" stroke-width="1.45"/>
<circle cx="404.70" cy="97.57" r="2.95" fill="#fff" stroke="#8fbde4" stroke-width="1.45"/>
<circle cx="408.70" cy="91.75" r="2.95" fill="#fff" stroke="#8fbde4" stroke-width="1.45"/>
<circle cx="406.20" cy="144.80" r="2.95" fill="#fff" stroke="#8fbde4" stroke-width="1.45"/>
<circle cx="407.70" cy="113.33" r="2.95" fill="#fff" stroke="#8fbde4" stroke-width="1.45"/>
<circle cx="405.70" cy="129.84" r="2.95" fill="#fff" stroke="#8fbde4" stroke-width="1.45"/>
<circle cx="402.70" cy="100.29" r="2.95" fill="#fff" stroke="#8fbde4" stroke-width="1.45"/>
<circle cx="404.70" cy="88.94" r="2.95" fill="#fff" stroke="#8fbde4" stroke-width="1.45"/>
<circle cx="407.20" cy="134.00" r="2.95" fill="#fff" stroke="#8fbde4" stroke-width="1.45"/>
<circle cx="400.70" cy="122.70" r="2.95" fill="#fff" stroke="#8fbde4" stroke-width="1.45"/>
<circle cx="409.70" cy="110.01" r="2.95" fill="#fff" stroke="#8fbde4" stroke-width="1.45"/>
<circle cx="409.20" cy="125.47" r="2.95" fill="#fff" stroke="#8fbde4" stroke-width="1.45"/>
<circle cx="402.20" cy="85.45" r="2.95" fill="#fff" stroke="#8fbde4" stroke-width="1.45"/>
<circle cx="407.20" cy="96.34" r="2.95" fill="#fff" stroke="#8fbde4" stroke-width="1.45"/>
<circle cx="401.20" cy="107.94" r="2.95" fill="#fff" stroke="#8fbde4" stroke-width="1.45"/>
<circle cx="401.20" cy="97.53" r="2.95" fill="#fff" stroke="#8fbde4" stroke-width="1.45"/>
<circle cx="403.70" cy="91.75" r="2.95" fill="#fff" stroke="#8fbde4" stroke-width="1.45"/>
<circle cx="409.70" cy="128.33" r="2.95" fill="#fff" stroke="#8fbde4" stroke-width="1.45"/>
<circle cx="416.20" cy="89.49" r="2.95" fill="#fff" stroke="#8fbde4" stroke-width="1.45"/>
<circle cx="408.20" cy="131.66" r="2.95" fill="#fff" stroke="#8fbde4" stroke-width="1.45"/>
<circle cx="406.20" cy="67.70" r="2.95" fill="#fff" stroke="#8fbde4" stroke-width="1.45"/>
<circle cx="412.20" cy="107.88" r="2.95" fill="#fff" stroke="#8fbde4" stroke-width="1.45"/>
<circle cx="405.70" cy="100.53" r="2.95" fill="#fff" stroke="#8fbde4" stroke-width="1.45"/>
<circle cx="402.70" cy="80.04" r="2.95" fill="#fff" stroke="#8fbde4" stroke-width="1.45"/>
<circle cx="409.70" cy="120.76" r="2.95" fill="#fff" stroke="#8fbde4" stroke-width="1.45"/>
<circle cx="409.20" cy="137.87" r="2.95" fill="#fff" stroke="#8fbde4" stroke-width="1.45"/>
<circle cx="401.70" cy="89.99" r="2.95" fill="#fff" stroke="#8fbde4" stroke-width="1.45"/>
<circle cx="407.20" cy="82.60" r="2.95" fill="#fff" stroke="#8fbde4" stroke-width="1.45"/>
<circle cx="409.20" cy="98.05" r="2.95" fill="#fff" stroke="#8fbde4" stroke-width="1.45"/>
<circle cx="411.20" cy="104.27" r="2.95" fill="#fff" stroke="#8fbde4" stroke-width="1.45"/>
<circle cx="407.70" cy="89.95" r="2.95" fill="#fff" stroke="#8fbde4" stroke-width="1.45"/>
<circle cx="399.70" cy="100.57" r="2.95" fill="#fff" stroke="#8fbde4" stroke-width="1.45"/>
<circle cx="396.20" cy="89.28" r="2.95" fill="#fff" stroke="#8fbde4" stroke-width="1.45"/>
<circle cx="403.70" cy="126.34" r="2.95" fill="#fff" stroke="#8fbde4" stroke-width="1.45"/>
<circle cx="411.70" cy="122.66" r="2.95" fill="#fff" stroke="#8fbde4" stroke-width="1.45"/>
<circle cx="409.70" cy="95.37" r="2.95" fill="#fff" stroke="#8fbde4" stroke-width="1.45"/>
<circle cx="412.70" cy="100.76" r="2.95" fill="#fff" stroke="#8fbde4" stroke-width="1.45"/>
<circle cx="406.20" cy="153.80" r="2.95" fill="#fff" stroke="#8fbde4" stroke-width="1.45"/>
<circle cx="402.20" cy="114.13" r="2.95" fill="#fff" stroke="#8fbde4" stroke-width="1.45"/>
<circle cx="406.20" cy="136.31" r="2.95" fill="#fff" stroke="#8fbde4" stroke-width="1.45"/>
<circle cx="413.20" cy="92.51" r="2.95" fill="#fff" stroke="#8fbde4" stroke-width="1.45"/>
<polygon points="441.30,107.16 444.05,112.56 438.55,112.56" fill="#fff" stroke="#f2424a" stroke-width="1.65" stroke-linejoin="round"/>
<polygon points="445.80,71.15 448.55,76.55 443.05,76.55" fill="#fff" stroke="#f2424a" stroke-width="1.65" stroke-linejoin="round"/>
<polygon points="448.30,111.05 451.05,116.45 445.55,116.45" fill="#fff" stroke="#f2424a" stroke-width="1.65" stroke-linejoin="round"/>
<polygon points="445.80,131.14 448.55,136.54 443.05,136.54" fill="#fff" stroke="#f2424a" stroke-width="1.65" stroke-linejoin="round"/>
<polygon points="446.30,80.46 449.05,85.86 443.55,85.86" fill="#fff" stroke="#f2424a" stroke-width="1.65" stroke-linejoin="round"/>
<polygon points="441.30,137.81 444.05,143.21 438.55,143.21" fill="#fff" stroke="#f2424a" stroke-width="1.65" stroke-linejoin="round"/>
<polygon points="443.80,133.99 446.55,139.39 441.05,139.39" fill="#fff" stroke="#f2424a" stroke-width="1.65" stroke-linejoin="round"/>
<polygon points="445.80,172.95 448.55,178.35 443.05,178.35" fill="#fff" stroke="#f2424a" stroke-width="1.65" stroke-linejoin="round"/>
<polygon points="448.80,123.52 451.55,128.92 446.05,128.92" fill="#fff" stroke="#f2424a" stroke-width="1.65" stroke-linejoin="round"/>
<polygon points="448.30,140.07 451.05,145.47 445.55,145.47" fill="#fff" stroke="#f2424a" stroke-width="1.65" stroke-linejoin="round"/>
<polygon points="449.80,90.30 452.55,95.70 447.05,95.70" fill="#fff" stroke="#f2424a" stroke-width="1.65" stroke-linejoin="round"/>
<polygon points="441.30,95.01 444.05,100.41 438.55,100.41" fill="#fff" stroke="#f2424a" stroke-width="1.65" stroke-linejoin="round"/>
<polygon points="447.30,97.51 450.05,102.91 444.55,102.91" fill="#fff" stroke="#f2424a" stroke-width="1.65" stroke-linejoin="round"/>
<polygon points="447.30,142.90 450.05,148.30 444.55,148.30" fill="#fff" stroke="#f2424a" stroke-width="1.65" stroke-linejoin="round"/>
<polygon points="443.30,143.24 446.05,148.64 440.55,148.64" fill="#fff" stroke="#f2424a" stroke-width="1.65" stroke-linejoin="round"/>
<polygon points="445.80,125.15 448.55,130.55 443.05,130.55" fill="#fff" stroke="#f2424a" stroke-width="1.65" stroke-linejoin="round"/>
<polygon points="447.80,128.28 450.55,133.68 445.05,133.68" fill="#fff" stroke="#f2424a" stroke-width="1.65" stroke-linejoin="round"/>
<polygon points="442.80,130.78 445.55,136.18 440.05,136.18" fill="#fff" stroke="#f2424a" stroke-width="1.65" stroke-linejoin="round"/>
<polygon points="443.80,126.70 446.55,132.10 441.05,132.10" fill="#fff" stroke="#f2424a" stroke-width="1.65" stroke-linejoin="round"/>
<polygon points="442.80,87.16 445.55,92.56 440.05,92.56" fill="#fff" stroke="#f2424a" stroke-width="1.65" stroke-linejoin="round"/>
<polygon points="450.30,137.10 453.05,142.50 447.55,142.50" fill="#fff" stroke="#f2424a" stroke-width="1.65" stroke-linejoin="round"/>
<polygon points="445.80,120.92 448.55,126.32 443.05,126.32" fill="#fff" stroke="#f2424a" stroke-width="1.65" stroke-linejoin="round"/>
<polygon points="445.80,76.35 448.55,81.75 443.05,81.75" fill="#fff" stroke="#f2424a" stroke-width="1.65" stroke-linejoin="round"/>
<polygon points="445.80,51.05 448.55,56.45 443.05,56.45" fill="#fff" stroke="#f2424a" stroke-width="1.65" stroke-linejoin="round"/>
<polygon points="446.30,116.90 449.05,122.30 443.55,122.30" fill="#fff" stroke="#f2424a" stroke-width="1.65" stroke-linejoin="round"/>
<polygon points="442.80,123.14 445.55,128.54 440.05,128.54" fill="#fff" stroke="#f2424a" stroke-width="1.65" stroke-linejoin="round"/>
<polygon points="443.80,96.99 446.55,102.39 441.05,102.39" fill="#fff" stroke="#f2424a" stroke-width="1.65" stroke-linejoin="round"/>
<polygon points="442.30,98.52 445.05,103.92 439.55,103.92" fill="#fff" stroke="#f2424a" stroke-width="1.65" stroke-linejoin="round"/>
<polygon points="445.80,84.64 448.55,90.04 443.05,90.04" fill="#fff" stroke="#f2424a" stroke-width="1.65" stroke-linejoin="round"/>
<polygon points="443.30,110.31 446.05,115.71 440.55,115.71" fill="#fff" stroke="#f2424a" stroke-width="1.65" stroke-linejoin="round"/>
<polygon points="443.80,104.15 446.55,109.55 441.05,109.55" fill="#fff" stroke="#f2424a" stroke-width="1.65" stroke-linejoin="round"/>
<polygon points="445.80,167.15 448.55,172.55 443.05,172.55" fill="#fff" stroke="#f2424a" stroke-width="1.65" stroke-linejoin="round"/>
<polygon points="451.30,92.08 454.05,97.48 448.55,97.48" fill="#fff" stroke="#f2424a" stroke-width="1.65" stroke-linejoin="round"/>
<polygon points="444.80,92.34 447.55,97.74 442.05,97.74" fill="#fff" stroke="#f2424a" stroke-width="1.65" stroke-linejoin="round"/>
<polygon points="448.80,94.63 451.55,100.03 446.05,100.03" fill="#fff" stroke="#f2424a" stroke-width="1.65" stroke-linejoin="round"/>
<polygon points="446.30,137.81 449.05,143.21 443.55,143.21" fill="#fff" stroke="#f2424a" stroke-width="1.65" stroke-linejoin="round"/>
<polygon points="449.30,80.44 452.05,85.84 446.55,85.84" fill="#fff" stroke="#f2424a" stroke-width="1.65" stroke-linejoin="round"/>
<polygon points="445.80,113.45 448.55,118.85 443.05,118.85" fill="#fff" stroke="#f2424a" stroke-width="1.65" stroke-linejoin="round"/>
<polygon points="450.80,97.32 453.55,102.72 448.05,102.72" fill="#fff" stroke="#f2424a" stroke-width="1.65" stroke-linejoin="round"/>
<polygon points="443.30,117.93 446.05,123.33 440.55,123.33" fill="#fff" stroke="#f2424a" stroke-width="1.65" stroke-linejoin="round"/>
<polygon points="447.80,146.55 450.55,151.95 445.05,151.95" fill="#fff" stroke="#f2424a" stroke-width="1.65" stroke-linejoin="round"/>
<polygon points="452.80,94.97 455.55,100.37 450.05,100.37" fill="#fff" stroke="#f2424a" stroke-width="1.65" stroke-linejoin="round"/>
<polygon points="443.80,160.96 446.55,166.36 441.05,166.36" fill="#fff" stroke="#f2424a" stroke-width="1.65" stroke-linejoin="round"/>
<polygon points="448.80,83.91 451.55,89.31 446.05,89.31" fill="#fff" stroke="#f2424a" stroke-width="1.65" stroke-linejoin="round"/>
<polygon points="447.80,161.09 450.55,166.49 445.05,166.49" fill="#fff" stroke="#f2424a" stroke-width="1.65" stroke-linejoin="round"/>
<polygon points="448.30,133.55 451.05,138.95 445.55,138.95" fill="#fff" stroke="#f2424a" stroke-width="1.65" stroke-linejoin="round"/>
<polygon points="437.80,95.57 440.55,100.97 435.05,100.97" fill="#fff" stroke="#f2424a" stroke-width="1.65" stroke-linejoin="round"/>
<polygon points="447.80,87.66 450.55,93.06 445.05,93.06" fill="#fff" stroke="#f2424a" stroke-width="1.65" stroke-linejoin="round"/>
<polygon points="445.80,164.15 448.55,169.55 443.05,169.55" fill="#fff" stroke="#f2424a" stroke-width="1.65" stroke-linejoin="round"/>
<polygon points="449.30,98.74 452.05,104.14 446.55,104.14" fill="#fff" stroke="#f2424a" stroke-width="1.65" stroke-linejoin="round"/>
<polygon points="442.30,80.77 445.05,86.17 439.55,86.17" fill="#fff" stroke="#f2424a" stroke-width="1.65" stroke-linejoin="round"/>
<polygon points="445.30,89.41 448.05,94.81 442.55,94.81" fill="#fff" stroke="#f2424a" stroke-width="1.65" stroke-linejoin="round"/>
<polygon points="450.30,107.19 453.05,112.59 447.55,112.59" fill="#fff" stroke="#f2424a" stroke-width="1.65" stroke-linejoin="round"/>
<polygon points="450.30,87.08 453.05,92.48 447.55,92.48" fill="#fff" stroke="#f2424a" stroke-width="1.65" stroke-linejoin="round"/>
<polygon points="445.30,98.74 448.05,104.14 442.55,104.14" fill="#fff" stroke="#f2424a" stroke-width="1.65" stroke-linejoin="round"/>
<polygon points="441.80,90.72 444.55,96.12 439.05,96.12" fill="#fff" stroke="#f2424a" stroke-width="1.65" stroke-linejoin="round"/>
<polygon points="438.80,92.22 441.55,97.62 436.05,97.62" fill="#fff" stroke="#f2424a" stroke-width="1.65" stroke-linejoin="round"/>
<polygon points="445.30,140.69 448.05,146.09 442.55,146.09" fill="#fff" stroke="#f2424a" stroke-width="1.65" stroke-linejoin="round"/>
<polygon points="446.30,107.34 449.05,112.74 443.55,112.74" fill="#fff" stroke="#f2424a" stroke-width="1.65" stroke-linejoin="round"/>
<polygon points="439.80,89.33 442.55,94.73 437.05,94.73" fill="#fff" stroke="#f2424a" stroke-width="1.65" stroke-linejoin="round"/>
<polygon points="448.30,119.68 451.05,125.08 445.55,125.08" fill="#fff" stroke="#f2424a" stroke-width="1.65" stroke-linejoin="round"/>
<polygon points="455.80,95.18 458.55,100.58 453.05,100.58" fill="#fff" stroke="#f2424a" stroke-width="1.65" stroke-linejoin="round"/>
<polygon points="447.80,91.54 450.55,96.94 445.05,96.94" fill="#fff" stroke="#f2424a" stroke-width="1.65" stroke-linejoin="round"/>
<polygon points="445.80,146.78 448.55,152.18 443.05,152.18" fill="#fff" stroke="#f2424a" stroke-width="1.65" stroke-linejoin="round"/>
<polygon points="448.30,103.01 451.05,108.41 445.55,108.41" fill="#fff" stroke="#f2424a" stroke-width="1.65" stroke-linejoin="round"/>
<line x1="432.50" y1="115.60" x2="459.20" y2="115.60" stroke="#111" stroke-width="1.9" stroke-linecap="butt"/>
<line x1="380.00" y1="40.90" x2="380.00" y2="181.20" stroke="#111" stroke-width="1.7" stroke-linecap="butt"/>
<line x1="374.00" y1="180.30" x2="472.80" y2="180.30" stroke="#111" stroke-width="1.8" stroke-linecap="butt"/>
<line x1="374.00" y1="180.30" x2="380.00" y2="180.30" stroke="#111" stroke-width="1.6" stroke-linecap="butt"/>
<text x="372.00" y="185.16" font-size="13.5" text-anchor="end" fill="#111" stroke="#111" >0</text>
<line x1="374.00" y1="134.10" x2="380.00" y2="134.10" stroke="#111" stroke-width="1.6" stroke-linecap="butt"/>
<text x="372.00" y="138.96" font-size="13.5" text-anchor="end" fill="#111" stroke="#111" >50</text>
<line x1="374.00" y1="87.90" x2="380.00" y2="87.90" stroke="#111" stroke-width="1.6" stroke-linecap="butt"/>
<text x="372.00" y="92.76" font-size="13.5" text-anchor="end" fill="#111" stroke="#111" >100</text>
<line x1="374.00" y1="41.70" x2="380.00" y2="41.70" stroke="#111" stroke-width="1.6" stroke-linecap="butt"/>
<text x="372.00" y="46.56" font-size="13.5" text-anchor="end" fill="#111" stroke="#111" >150</text>
<line x1="406.20" y1="180.30" x2="406.20" y2="186.10" stroke="#111" stroke-width="1.6" stroke-linecap="butt"/>
<line x1="445.80" y1="180.30" x2="445.80" y2="186.10" stroke="#111" stroke-width="1.6" stroke-linecap="butt"/>
<text transform="translate(410.20,198.80) rotate(-45)" font-size="13.5" text-anchor="end">Non-AKI</text>
<text transform="translate(449.80,198.80) rotate(-45)" font-size="13.5" text-anchor="end">AKI</text>
<text transform="translate(345.60,109.50) rotate(-90)" font-size="14" text-anchor="middle" textLength="88.3" lengthAdjust="spacingAndGlyphs">eGFR(mL/min)</text>
<text x="399.00" y="30.40" font-size="12" font-style="italic" textLength="54.0" lengthAdjust="spacingAndGlyphs" xml:space="preserve">p = 0.0011</text>
<line x1="406.20" y1="36.40" x2="445.80" y2="36.40" stroke="#111" stroke-width="1.8" stroke-linecap="butt"/>
<line x1="602.20" y1="79.50" x2="629.50" y2="79.50" stroke="#111" stroke-width="1.9" stroke-linecap="butt"/>
<circle cx="608.80" cy="97.86" r="2.95" fill="#fff" stroke="#8fbde4" stroke-width="1.45"/>
<circle cx="617.80" cy="64.05" r="2.95" fill="#fff" stroke="#8fbde4" stroke-width="1.45"/>
<circle cx="615.30" cy="90.72" r="2.95" fill="#fff" stroke="#8fbde4" stroke-width="1.45"/>
<circle cx="612.80" cy="92.53" r="2.95" fill="#fff" stroke="#8fbde4" stroke-width="1.45"/>
<circle cx="622.80" cy="85.06" r="2.95" fill="#fff" stroke="#8fbde4" stroke-width="1.45"/>
<circle cx="615.80" cy="132.50" r="2.95" fill="#fff" stroke="#8fbde4" stroke-width="1.45"/>
<circle cx="615.30" cy="100.86" r="2.95" fill="#fff" stroke="#8fbde4" stroke-width="1.45"/>
<circle cx="617.80" cy="92.89" r="2.95" fill="#fff" stroke="#8fbde4" stroke-width="1.45"/>
<circle cx="616.80" cy="88.44" r="2.95" fill="#fff" stroke="#8fbde4" stroke-width="1.45"/>
<circle cx="610.80" cy="86.66" r="2.95" fill="#fff" stroke="#8fbde4" stroke-width="1.45"/>
<circle cx="615.30" cy="64.37" r="2.95" fill="#fff" stroke="#8fbde4" stroke-width="1.45"/>
<circle cx="615.80" cy="121.13" r="2.95" fill="#fff" stroke="#8fbde4" stroke-width="1.45"/>
<circle cx="609.30" cy="83.43" r="2.95" fill="#fff" stroke="#8fbde4" stroke-width="1.45"/>
<circle cx="608.80" cy="88.52" r="2.95" fill="#fff" stroke="#8fbde4" stroke-width="1.45"/>
<circle cx="613.30" cy="70.33" r="2.95" fill="#fff" stroke="#8fbde4" stroke-width="1.45"/>
<circle cx="617.30" cy="78.32" r="2.95" fill="#fff" stroke="#8fbde4" stroke-width="1.45"/>
<circle cx="613.30" cy="104.51" r="2.95" fill="#fff" stroke="#8fbde4" stroke-width="1.45"/>
<circle cx="625.80" cy="95.01" r="2.95" fill="#fff" stroke="#8fbde4" stroke-width="1.45"/>
<circle cx="623.30" cy="81.83" r="2.95" fill="#fff" stroke="#8fbde4" stroke-width="1.45"/>
<circle cx="617.30" cy="84.77" r="2.95" fill="#fff" stroke="#8fbde4" stroke-width="1.45"/>
<circle cx="615.80" cy="81.84" r="2.95" fill="#fff" stroke="#8fbde4" stroke-width="1.45"/>
<circle cx="618.80" cy="90.17" r="2.95" fill="#fff" stroke="#8fbde4" stroke-width="1.45"/>
<circle cx="621.30" cy="91.54" r="2.95" fill="#fff" stroke="#8fbde4" stroke-width="1.45"/>
<circle cx="615.80" cy="68.25" r="2.95" fill="#fff" stroke="#8fbde4" stroke-width="1.45"/>
<circle cx="617.30" cy="70.92" r="2.95" fill="#fff" stroke="#8fbde4" stroke-width="1.45"/>
<circle cx="611.80" cy="109.10" r="2.95" fill="#fff" stroke="#8fbde4" stroke-width="1.45"/>
<circle cx="611.30" cy="65.92" r="2.95" fill="#fff" stroke="#8fbde4" stroke-width="1.45"/>
<circle cx="614.30" cy="76.51" r="2.95" fill="#fff" stroke="#8fbde4" stroke-width="1.45"/>
<circle cx="614.80" cy="73.87" r="2.95" fill="#fff" stroke="#8fbde4" stroke-width="1.45"/>
<circle cx="617.80" cy="116.54" r="2.95" fill="#fff" stroke="#8fbde4" stroke-width="1.45"/>
<circle cx="613.30" cy="114.58" r="2.95" fill="#fff" stroke="#8fbde4" stroke-width="1.45"/>
<circle cx="612.30" cy="101.30" r="2.95" fill="#fff" stroke="#8fbde4" stroke-width="1.45"/>
<circle cx="616.30" cy="62.35" r="2.95" fill="#fff" stroke="#8fbde4" stroke-width="1.45"/>
<circle cx="623.30" cy="93.65" r="2.95" fill="#fff" stroke="#8fbde4" stroke-width="1.45"/>
<circle cx="618.30" cy="119.76" r="2.95" fill="#fff" stroke="#8fbde4" stroke-width="1.45"/>
<circle cx="617.30" cy="106.07" r="2.95" fill="#fff" stroke="#8fbde4" stroke-width="1.45"/>
<circle cx="610.30" cy="91.40" r="2.95" fill="#fff" stroke="#8fbde4" stroke-width="1.45"/>
<circle cx="611.30" cy="80.60" r="2.95" fill="#fff" stroke="#8fbde4" stroke-width="1.45"/>
<circle cx="622.80" cy="88.63" r="2.95" fill="#fff" stroke="#8fbde4" stroke-width="1.45"/>
<circle cx="612.30" cy="88.66" r="2.95" fill="#fff" stroke="#8fbde4" stroke-width="1.45"/>
<circle cx="613.80" cy="79.79" r="2.95" fill="#fff" stroke="#8fbde4" stroke-width="1.45"/>
<circle cx="607.80" cy="92.95" r="2.95" fill="#fff" stroke="#8fbde4" stroke-width="1.45"/>
<circle cx="620.30" cy="76.54" r="2.95" fill="#fff" stroke="#8fbde4" stroke-width="1.45"/>
<circle cx="613.80" cy="111.37" r="2.95" fill="#fff" stroke="#8fbde4" stroke-width="1.45"/>
<circle cx="617.30" cy="96.37" r="2.95" fill="#fff" stroke="#8fbde4" stroke-width="1.45"/>
<circle cx="605.80" cy="84.91" r="2.95" fill="#fff" stroke="#8fbde4" stroke-width="1.45"/>
<circle cx="617.80" cy="67.33" r="2.95" fill="#fff" stroke="#8fbde4" stroke-width="1.45"/>
<circle cx="620.80" cy="79.85" r="2.95" fill="#fff" stroke="#8fbde4" stroke-width="1.45"/>
<circle cx="614.30" cy="86.83" r="2.95" fill="#fff" stroke="#8fbde4" stroke-width="1.45"/>
<circle cx="619.80" cy="107.78" r="2.95" fill="#fff" stroke="#8fbde4" stroke-width="1.45"/>
<circle cx="618.30" cy="110.42" r="2.95" fill="#fff" stroke="#8fbde4" stroke-width="1.45"/>
<circle cx="620.30" cy="64.33" r="2.95" fill="#fff" stroke="#8fbde4" stroke-width="1.45"/>
<circle cx="610.30" cy="94.34" r="2.95" fill="#fff" stroke="#8fbde4" stroke-width="1.45"/>
<circle cx="612.30" cy="74.73" r="2.95" fill="#fff" stroke="#8fbde4" stroke-width="1.45"/>
<circle cx="615.30" cy="93.76" r="2.95" fill="#fff" stroke="#8fbde4" stroke-width="1.45"/>
<circle cx="615.80" cy="117.40" r="2.95" fill="#fff" stroke="#8fbde4" stroke-width="1.45"/>
<circle cx="616.80" cy="113.24" r="2.95" fill="#fff" stroke="#8fbde4" stroke-width="1.45"/>
<circle cx="613.30" cy="96.61" r="2.95" fill="#fff" stroke="#8fbde4" stroke-width="1.45"/>
<circle cx="615.80" cy="103.71" r="2.95" fill="#fff" stroke="#8fbde4" stroke-width="1.45"/>
<circle cx="619.80" cy="74.04" r="2.95" fill="#fff" stroke="#8fbde4" stroke-width="1.45"/>
<circle cx="625.80" cy="84.54" r="2.95" fill="#fff" stroke="#8fbde4" stroke-width="1.45"/>
<circle cx="613.30" cy="62.57" r="2.95" fill="#fff" stroke="#8fbde4" stroke-width="1.45"/>
<circle cx="620.30" cy="94.17" r="2.95" fill="#fff" stroke="#8fbde4" stroke-width="1.45"/>
<circle cx="613.30" cy="119.74" r="2.95" fill="#fff" stroke="#8fbde4" stroke-width="1.45"/>
<circle cx="617.30" cy="75.08" r="2.95" fill="#fff" stroke="#8fbde4" stroke-width="1.45"/>
<circle cx="619.80" cy="86.98" r="2.95" fill="#fff" stroke="#8fbde4" stroke-width="1.45"/>
<circle cx="620.30" cy="83.23" r="2.95" fill="#fff" stroke="#8fbde4" stroke-width="1.45"/>
<circle cx="615.30" cy="107.99" r="2.95" fill="#fff" stroke="#8fbde4" stroke-width="1.45"/>
<circle cx="618.30" cy="102.81" r="2.95" fill="#fff" stroke="#8fbde4" stroke-width="1.45"/>
<circle cx="622.80" cy="96.90" r="2.95" fill="#fff" stroke="#8fbde4" stroke-width="1.45"/>
<circle cx="615.80" cy="59.10" r="2.95" fill="#fff" stroke="#8fbde4" stroke-width="1.45"/>
<circle cx="619.30" cy="100.06" r="2.95" fill="#fff" stroke="#8fbde4" stroke-width="1.45"/>
<circle cx="605.80" cy="95.20" r="2.95" fill="#fff" stroke="#8fbde4" stroke-width="1.45"/>
<circle cx="611.30" cy="77.33" r="2.95" fill="#fff" stroke="#8fbde4" stroke-width="1.45"/>
<circle cx="618.30" cy="81.70" r="2.95" fill="#fff" stroke="#8fbde4" stroke-width="1.45"/>
<circle cx="612.80" cy="83.63" r="2.95" fill="#fff" stroke="#8fbde4" stroke-width="1.45"/>
<polygon points="649.80,94.73 652.55,100.13 647.05,100.13" fill="#fff" stroke="#f2424a" stroke-width="1.65" stroke-linejoin="round"/>
<polygon points="655.80,94.09 658.55,99.49 653.05,99.49" fill="#fff" stroke="#f2424a" stroke-width="1.65" stroke-linejoin="round"/>
<polygon points="645.80,99.06 648.55,104.46 643.05,104.46" fill="#fff" stroke="#f2424a" stroke-width="1.65" stroke-linejoin="round"/>
<polygon points="657.30,119.36 660.05,124.76 654.55,124.76" fill="#fff" stroke="#f2424a" stroke-width="1.65" stroke-linejoin="round"/>
<polygon points="652.80,117.02 655.55,122.42 650.05,122.42" fill="#fff" stroke="#f2424a" stroke-width="1.65" stroke-linejoin="round"/>
<polygon points="654.80,69.55 657.55,74.95 652.05,74.95" fill="#fff" stroke="#f2424a" stroke-width="1.65" stroke-linejoin="round"/>
<polygon points="661.80,100.94 664.55,106.34 659.05,106.34" fill="#fff" stroke="#f2424a" stroke-width="1.65" stroke-linejoin="round"/>
<polygon points="655.80,116.73 658.55,122.13 653.05,122.13" fill="#fff" stroke="#f2424a" stroke-width="1.65" stroke-linejoin="round"/>
<polygon points="649.80,120.27 652.55,125.67 647.05,125.67" fill="#fff" stroke="#f2424a" stroke-width="1.65" stroke-linejoin="round"/>
<polygon points="654.80,160.35 657.55,165.75 652.05,165.75" fill="#fff" stroke="#f2424a" stroke-width="1.65" stroke-linejoin="round"/>
<polygon points="654.80,113.19 657.55,118.59 652.05,118.59" fill="#fff" stroke="#f2424a" stroke-width="1.65" stroke-linejoin="round"/>
<polygon points="653.30,103.25 656.05,108.65 650.55,108.65" fill="#fff" stroke="#f2424a" stroke-width="1.65" stroke-linejoin="round"/>
<polygon points="654.80,130.15 657.55,135.55 652.05,135.55" fill="#fff" stroke="#f2424a" stroke-width="1.65" stroke-linejoin="round"/>
<polygon points="658.80,95.29 661.55,100.69 656.05,100.69" fill="#fff" stroke="#f2424a" stroke-width="1.65" stroke-linejoin="round"/>
<polygon points="658.80,113.46 661.55,118.86 656.05,118.86" fill="#fff" stroke="#f2424a" stroke-width="1.65" stroke-linejoin="round"/>
<polygon points="659.80,103.33 662.55,108.73 657.05,108.73" fill="#fff" stroke="#f2424a" stroke-width="1.65" stroke-linejoin="round"/>
<polygon points="658.30,106.13 661.05,111.53 655.55,111.53" fill="#fff" stroke="#f2424a" stroke-width="1.65" stroke-linejoin="round"/>
<polygon points="654.80,120.79 657.55,126.19 652.05,126.19" fill="#fff" stroke="#f2424a" stroke-width="1.65" stroke-linejoin="round"/>
<polygon points="654.80,110.42 657.55,115.82 652.05,115.82" fill="#fff" stroke="#f2424a" stroke-width="1.65" stroke-linejoin="round"/>
<polygon points="652.80,84.89 655.55,90.29 650.05,90.29" fill="#fff" stroke="#f2424a" stroke-width="1.65" stroke-linejoin="round"/>
<polygon points="654.80,100.79 657.55,106.19 652.05,106.19" fill="#fff" stroke="#f2424a" stroke-width="1.65" stroke-linejoin="round"/>
<polygon points="651.80,89.47 654.55,94.87 649.05,94.87" fill="#fff" stroke="#f2424a" stroke-width="1.65" stroke-linejoin="round"/>
<polygon points="656.80,85.19 659.55,90.59 654.05,90.59" fill="#fff" stroke="#f2424a" stroke-width="1.65" stroke-linejoin="round"/>
<polygon points="652.30,121.85 655.05,127.25 649.55,127.25" fill="#fff" stroke="#f2424a" stroke-width="1.65" stroke-linejoin="round"/>
<polygon points="656.30,103.76 659.05,109.16 653.55,109.16" fill="#fff" stroke="#f2424a" stroke-width="1.65" stroke-linejoin="round"/>
<polygon points="654.30,91.78 657.05,97.18 651.55,97.18" fill="#fff" stroke="#f2424a" stroke-width="1.65" stroke-linejoin="round"/>
<polygon points="659.80,121.00 662.55,126.40 657.05,126.40" fill="#fff" stroke="#f2424a" stroke-width="1.65" stroke-linejoin="round"/>
<polygon points="654.80,88.10 657.55,93.50 652.05,93.50" fill="#fff" stroke="#f2424a" stroke-width="1.65" stroke-linejoin="round"/>
<polygon points="657.80,101.15 660.55,106.55 655.05,106.55" fill="#fff" stroke="#f2424a" stroke-width="1.65" stroke-linejoin="round"/>
<polygon points="656.30,80.96 659.05,86.36 653.55,86.36" fill="#fff" stroke="#f2424a" stroke-width="1.65" stroke-linejoin="round"/>
<polygon points="656.30,97.31 659.05,102.71 653.55,102.71" fill="#fff" stroke="#f2424a" stroke-width="1.65" stroke-linejoin="round"/>
<polygon points="649.80,102.55 652.55,107.95 647.05,107.95" fill="#fff" stroke="#f2424a" stroke-width="1.65" stroke-linejoin="round"/>
<polygon points="654.80,172.05 657.55,177.45 652.05,177.45" fill="#fff" stroke="#f2424a" stroke-width="1.65" stroke-linejoin="round"/>
<polygon points="657.80,93.06 660.55,98.46 655.05,98.46" fill="#fff" stroke="#f2424a" stroke-width="1.65" stroke-linejoin="round"/>
<polygon points="650.80,113.39 653.55,118.79 648.05,118.79" fill="#fff" stroke="#f2424a" stroke-width="1.65" stroke-linejoin="round"/>
<polygon points="651.80,93.09 654.55,98.49 649.05,98.49" fill="#fff" stroke="#f2424a" stroke-width="1.65" stroke-linejoin="round"/>
<polygon points="654.80,125.15 657.55,130.55 652.05,130.55" fill="#fff" stroke="#f2424a" stroke-width="1.65" stroke-linejoin="round"/>
<polygon points="649.30,97.46 652.05,102.86 646.55,102.86" fill="#fff" stroke="#f2424a" stroke-width="1.65" stroke-linejoin="round"/>
<polygon points="651.80,108.89 654.55,114.29 649.05,114.29" fill="#fff" stroke="#f2424a" stroke-width="1.65" stroke-linejoin="round"/>
<polygon points="659.80,98.29 662.55,103.69 657.05,103.69" fill="#fff" stroke="#f2424a" stroke-width="1.65" stroke-linejoin="round"/>
<polygon points="664.30,98.31 667.05,103.71 661.55,103.71" fill="#fff" stroke="#f2424a" stroke-width="1.65" stroke-linejoin="round"/>
<polygon points="652.80,95.43 655.55,100.83 650.05,100.83" fill="#fff" stroke="#f2424a" stroke-width="1.65" stroke-linejoin="round"/>
<polygon points="654.80,82.68 657.55,88.08 652.05,88.08" fill="#fff" stroke="#f2424a" stroke-width="1.65" stroke-linejoin="round"/>
<polygon points="654.80,64.75 657.55,70.15 652.05,70.15" fill="#fff" stroke="#f2424a" stroke-width="1.65" stroke-linejoin="round"/>
<polygon points="654.80,73.65 657.55,79.05 652.05,79.05" fill="#fff" stroke="#f2424a" stroke-width="1.65" stroke-linejoin="round"/>
<polygon points="651.30,105.48 654.05,110.88 648.55,110.88" fill="#fff" stroke="#f2424a" stroke-width="1.65" stroke-linejoin="round"/>
<polygon points="657.80,109.28 660.55,114.68 655.05,114.68" fill="#fff" stroke="#f2424a" stroke-width="1.65" stroke-linejoin="round"/>
<polygon points="657.30,122.15 660.05,127.55 654.55,127.55" fill="#fff" stroke="#f2424a" stroke-width="1.65" stroke-linejoin="round"/>
<polygon points="654.80,106.32 657.55,111.72 652.05,111.72" fill="#fff" stroke="#f2424a" stroke-width="1.65" stroke-linejoin="round"/>
<polygon points="654.80,78.15 657.55,83.55 652.05,83.55" fill="#fff" stroke="#f2424a" stroke-width="1.65" stroke-linejoin="round"/>
<polygon points="651.80,100.30 654.55,105.70 649.05,105.70" fill="#fff" stroke="#f2424a" stroke-width="1.65" stroke-linejoin="round"/>
<polygon points="656.80,111.62 659.55,117.02 654.05,117.02" fill="#fff" stroke="#f2424a" stroke-width="1.65" stroke-linejoin="round"/>
<polygon points="656.80,90.68 659.55,96.08 654.05,96.08" fill="#fff" stroke="#f2424a" stroke-width="1.65" stroke-linejoin="round"/>
<polygon points="652.80,111.24 655.55,116.64 650.05,116.64" fill="#fff" stroke="#f2424a" stroke-width="1.65" stroke-linejoin="round"/>
<line x1="648.30" y1="81.00" x2="661.70" y2="81.00" stroke="#f2424a" stroke-width="1.2" stroke-linecap="butt"/>
<line x1="641.40" y1="92.60" x2="668.00" y2="92.60" stroke="#111" stroke-width="1.9" stroke-linecap="butt"/>
<line x1="590.30" y1="43.60" x2="590.30" y2="183.00" stroke="#111" stroke-width="1.7" stroke-linecap="butt"/>
<line x1="584.30" y1="182.10" x2="681.40" y2="182.10" stroke="#111" stroke-width="1.8" stroke-linecap="butt"/>
<line x1="584.30" y1="44.90" x2="590.30" y2="44.90" stroke="#111" stroke-width="1.6" stroke-linecap="butt"/>
<text x="582.30" y="49.58" font-size="13" text-anchor="end" fill="#111" stroke="#111" >1000</text>
<line x1="584.30" y1="64.50" x2="590.30" y2="64.50" stroke="#111" stroke-width="1.6" stroke-linecap="butt"/>
<text x="582.30" y="69.18" font-size="13" text-anchor="end" fill="#111" stroke="#111" >100</text>
<line x1="584.30" y1="84.10" x2="590.30" y2="84.10" stroke="#111" stroke-width="1.6" stroke-linecap="butt"/>
<text x="582.30" y="88.78" font-size="13" text-anchor="end" fill="#111" stroke="#111" >10</text>
<line x1="584.30" y1="103.70" x2="590.30" y2="103.70" stroke="#111" stroke-width="1.6" stroke-linecap="butt"/>
<text x="582.30" y="108.38" font-size="13" text-anchor="end" fill="#111" stroke="#111" >1</text>
<line x1="584.30" y1="123.30" x2="590.30" y2="123.30" stroke="#111" stroke-width="1.6" stroke-linecap="butt"/>
<text x="582.30" y="127.98" font-size="13" text-anchor="end" fill="#111" stroke="#111" >0.1</text>
<line x1="584.30" y1="142.90" x2="590.30" y2="142.90" stroke="#111" stroke-width="1.6" stroke-linecap="butt"/>
<text x="582.30" y="147.58" font-size="13" text-anchor="end" fill="#111" stroke="#111" >0.01</text>
<line x1="584.30" y1="162.50" x2="590.30" y2="162.50" stroke="#111" stroke-width="1.6" stroke-linecap="butt"/>
<text x="582.30" y="167.18" font-size="13" text-anchor="end" fill="#111" stroke="#111" >0.001</text>
<line x1="584.30" y1="182.10" x2="590.30" y2="182.10" stroke="#111" stroke-width="1.6" stroke-linecap="butt"/>
<text x="582.30" y="186.78" font-size="13" text-anchor="end" fill="#111" stroke="#111" >0.0001</text>
<line x1="615.80" y1="182.10" x2="615.80" y2="187.90" stroke="#111" stroke-width="1.6" stroke-linecap="butt"/>
<line x1="654.80" y1="182.10" x2="654.80" y2="187.90" stroke="#111" stroke-width="1.6" stroke-linecap="butt"/>
<text transform="translate(619.80,200.60) rotate(-45)" font-size="13.5" text-anchor="end">Non-AKI</text>
<text transform="translate(658.80,200.60) rotate(-45)" font-size="13.5" text-anchor="end">AKI</text>
<text transform="translate(527.00,113.70) rotate(-90)" font-size="14" text-anchor="middle" textLength="155.4" lengthAdjust="spacingAndGlyphs">Relative RSDR expression</text>
<text x="610.70" y="30.50" font-size="12" font-style="italic" textLength="47.3" lengthAdjust="spacingAndGlyphs" xml:space="preserve">p&lt;0.0001</text>
<line x1="612.90" y1="43.10" x2="656.70" y2="43.10" stroke="#111" stroke-width="1.8" stroke-linecap="butt"/>
<line x1="27.00" y1="273.80" x2="677.00" y2="273.80" stroke="#111" stroke-width="2.1" stroke-linecap="butt"/>
<text x="332.50" y="261.00" font-size="15" fill="#111" text-anchor="start" textLength="25.00" lengthAdjust="spacingAndGlyphs" xml:space="preserve">AKI</text>
<line x1="27.00" y1="506.20" x2="677.00" y2="506.20" stroke="#111" stroke-width="2.1" stroke-linecap="butt"/>
<text x="321.20" y="488.10" font-size="15" fill="#111" text-anchor="start" textLength="59.60" lengthAdjust="spacingAndGlyphs" xml:space="preserve">Non-AKI</text>
<line x1="45.50" y1="305.80" x2="45.50" y2="424.00" stroke="#111" stroke-width="1.4" stroke-linecap="butt"/>
<line x1="40.50" y1="306.40" x2="45.50" y2="306.40" stroke="#111" stroke-width="1.3" stroke-linecap="butt"/>
<text x="39.20" y="309.82" font-size="9.5" text-anchor="end" fill="#111" stroke="#111" >10</text>
<line x1="40.50" y1="329.80" x2="45.50" y2="329.80" stroke="#111" stroke-width="1.3" stroke-linecap="butt"/>
<text x="39.20" y="333.22" font-size="9.5" text-anchor="end" fill="#111" stroke="#111" >5</text>
<line x1="40.50" y1="353.20" x2="45.50" y2="353.20" stroke="#111" stroke-width="1.3" stroke-linecap="butt"/>
<text x="39.20" y="356.62" font-size="9.5" text-anchor="end" fill="#111" stroke="#111" >0</text>
<line x1="40.50" y1="376.60" x2="45.50" y2="376.60" stroke="#111" stroke-width="1.3" stroke-linecap="butt"/>
<text x="39.20" y="380.02" font-size="9.5" text-anchor="end" fill="#111" stroke="#111" >-5</text>
<line x1="40.50" y1="400.00" x2="45.50" y2="400.00" stroke="#111" stroke-width="1.3" stroke-linecap="butt"/>
<text x="39.20" y="403.42" font-size="9.5" text-anchor="end" fill="#111" stroke="#111" >-10</text>
<line x1="40.50" y1="423.40" x2="45.50" y2="423.40" stroke="#111" stroke-width="1.3" stroke-linecap="butt"/>
<text x="39.20" y="426.82" font-size="9.5" text-anchor="end" fill="#111" stroke="#111" >-15</text>
<line x1="40.50" y1="353.20" x2="220.40" y2="353.20" stroke="#111" stroke-width="1.5" stroke-linecap="butt"/>
<line x1="103.50" y1="353.20" x2="103.50" y2="348.20" stroke="#111" stroke-width="1.3" stroke-linecap="butt"/>
<text x="103.50" y="364.40" font-size="9.5" text-anchor="middle" fill="#111" stroke="#111" >50</text>
<line x1="162.00" y1="353.20" x2="162.00" y2="348.20" stroke="#111" stroke-width="1.3" stroke-linecap="butt"/>
<text x="162.00" y="364.40" font-size="9.5" text-anchor="middle" fill="#111" stroke="#111" >100</text>
<line x1="220.40" y1="353.20" x2="220.40" y2="348.20" stroke="#111" stroke-width="1.3" stroke-linecap="butt"/>
<text x="220.40" y="364.40" font-size="9.5" text-anchor="middle" fill="#111" stroke="#111" >150</text>
<line x1="51.70" y1="370.40" x2="206.40" y2="338.40" stroke="#111" stroke-width="1.3" stroke-linecap="butt"/>
<circle cx="97.10" cy="324.10" r="2.3" fill="#fff" stroke="#f03a40" stroke-width="1.25"/>
<circle cx="65.50" cy="350.50" r="2.3" fill="#fff" stroke="#f03a40" stroke-width="1.25"/>
<circle cx="60.80" cy="356.50" r="2.3" fill="#fff" stroke="#f03a40" stroke-width="1.25"/>
<circle cx="83.50" cy="349.50" r="2.3" fill="#fff" stroke="#f03a40" stroke-width="1.25"/>
<circle cx="90.10" cy="348.20" r="2.3" fill="#fff" stroke="#f03a40" stroke-width="1.25"/>
<circle cx="94.90" cy="342.00" r="2.3" fill="#fff" stroke="#f03a40" stroke-width="1.25"/>
<circle cx="103.70" cy="341.60" r="2.3" fill="#fff" stroke="#f03a40" stroke-width="1.25"/>
<circle cx="106.40" cy="343.90" r="2.3" fill="#fff" stroke="#f03a40" stroke-width="1.25"/>
<circle cx="114.30" cy="343.10" r="2.3" fill="#fff" stroke="#f03a40" stroke-width="1.25"/>
<circle cx="116.30" cy="349.50" r="2.3" fill="#fff" stroke="#f03a40" stroke-width="1.25"/>
<circle cx="62.80" cy="371.70" r="2.3" fill="#fff" stroke="#f03a40" stroke-width="1.25"/>
<circle cx="64.80" cy="371.00" r="2.3" fill="#fff" stroke="#f03a40" stroke-width="1.25"/>
<circle cx="67.20" cy="369.00" r="2.3" fill="#fff" stroke="#f03a40" stroke-width="1.25"/>
<circle cx="85.60" cy="368.20" r="2.3" fill="#fff" stroke="#f03a40" stroke-width="1.25"/>
<circle cx="87.90" cy="367.30" r="2.3" fill="#fff" stroke="#f03a40" stroke-width="1.25"/>
<circle cx="89.90" cy="375.20" r="2.3" fill="#fff" stroke="#f03a40" stroke-width="1.25"/>
<circle cx="95.10" cy="364.40" r="2.3" fill="#fff" stroke="#f03a40" stroke-width="1.25"/>
<circle cx="97.50" cy="362.00" r="2.3" fill="#fff" stroke="#f03a40" stroke-width="1.25"/>
<circle cx="102.00" cy="361.60" r="2.3" fill="#fff" stroke="#f03a40" stroke-width="1.25"/>
<circle cx="106.00" cy="359.00" r="2.3" fill="#fff" stroke="#f03a40" stroke-width="1.25"/>
<circle cx="111.00" cy="358.50" r="2.3" fill="#fff" stroke="#f03a40" stroke-width="1.25"/>
<circle cx="117.30" cy="357.40" r="2.3" fill="#fff" stroke="#f03a40" stroke-width="1.25"/>
<circle cx="121.30" cy="369.00" r="2.3" fill="#fff" stroke="#f03a40" stroke-width="1.25"/>
<circle cx="126.80" cy="355.20" r="2.3" fill="#fff" stroke="#f03a40" stroke-width="1.25"/>
<circle cx="132.10" cy="354.10" r="2.3" fill="#fff" stroke="#f03a40" stroke-width="1.25"/>
<circle cx="132.10" cy="365.00" r="2.3" fill="#fff" stroke="#f03a40" stroke-width="1.25"/>
<circle cx="52.70" cy="399.90" r="2.3" fill="#fff" stroke="#f03a40" stroke-width="1.25"/>
<circle cx="51.60" cy="409.30" r="2.3" fill="#fff" stroke="#f03a40" stroke-width="1.25"/>
<circle cx="180.20" cy="327.20" r="2.3" fill="#fff" stroke="#f03a40" stroke-width="1.25"/>
<circle cx="167.10" cy="330.60" r="2.3" fill="#fff" stroke="#f03a40" stroke-width="1.25"/>
<circle cx="167.90" cy="337.30" r="2.3" fill="#fff" stroke="#f03a40" stroke-width="1.25"/>
<circle cx="167.40" cy="339.70" r="2.3" fill="#fff" stroke="#f03a40" stroke-width="1.25"/>
<circle cx="172.50" cy="336.20" r="2.3" fill="#fff" stroke="#f03a40" stroke-width="1.25"/>
<circle cx="178.30" cy="334.60" r="2.3" fill="#fff" stroke="#f03a40" stroke-width="1.25"/>
<circle cx="144.10" cy="343.40" r="2.3" fill="#fff" stroke="#f03a40" stroke-width="1.25"/>
<circle cx="148.60" cy="345.30" r="2.3" fill="#fff" stroke="#f03a40" stroke-width="1.25"/>
<circle cx="157.30" cy="343.40" r="2.3" fill="#fff" stroke="#f03a40" stroke-width="1.25"/>
<circle cx="154.50" cy="346.60" r="2.3" fill="#fff" stroke="#f03a40" stroke-width="1.25"/>
<circle cx="144.40" cy="349.00" r="2.3" fill="#fff" stroke="#f03a40" stroke-width="1.25"/>
<circle cx="148.90" cy="349.80" r="2.3" fill="#fff" stroke="#f03a40" stroke-width="1.25"/>
<circle cx="151.30" cy="351.00" r="2.3" fill="#fff" stroke="#f03a40" stroke-width="1.25"/>
<circle cx="143.30" cy="351.80" r="2.3" fill="#fff" stroke="#f03a40" stroke-width="1.25"/>
<circle cx="156.10" cy="349.30" r="2.3" fill="#fff" stroke="#f03a40" stroke-width="1.25"/>
<circle cx="160.60" cy="353.00" r="2.3" fill="#fff" stroke="#f03a40" stroke-width="1.25"/>
<circle cx="165.40" cy="351.40" r="2.3" fill="#fff" stroke="#f03a40" stroke-width="1.25"/>
<circle cx="166.60" cy="357.10" r="2.3" fill="#fff" stroke="#f03a40" stroke-width="1.25"/>
<circle cx="156.10" cy="356.60" r="2.3" fill="#fff" stroke="#f03a40" stroke-width="1.25"/>
<circle cx="149.70" cy="359.50" r="2.3" fill="#fff" stroke="#f03a40" stroke-width="1.25"/>
<circle cx="134.50" cy="352.10" r="2.3" fill="#fff" stroke="#f03a40" stroke-width="1.25"/>
<circle cx="127.20" cy="355.00" r="2.3" fill="#fff" stroke="#f03a40" stroke-width="1.25"/>
<circle cx="129.60" cy="354.20" r="2.3" fill="#fff" stroke="#f03a40" stroke-width="1.25"/>
<circle cx="132.80" cy="352.50" r="2.3" fill="#fff" stroke="#f03a40" stroke-width="1.25"/>
<circle cx="134.80" cy="363.30" r="2.3" fill="#fff" stroke="#f03a40" stroke-width="1.25"/>
<circle cx="132.50" cy="365.40" r="2.3" fill="#fff" stroke="#f03a40" stroke-width="1.25"/>
<circle cx="145.70" cy="366.20" r="2.3" fill="#fff" stroke="#f03a40" stroke-width="1.25"/>
<circle cx="153.20" cy="369.90" r="2.3" fill="#fff" stroke="#f03a40" stroke-width="1.25"/>
<circle cx="174.30" cy="367.00" r="2.3" fill="#fff" stroke="#f03a40" stroke-width="1.25"/>
<circle cx="205.90" cy="358.70" r="2.3" fill="#fff" stroke="#f03a40" stroke-width="1.25"/>
<circle cx="121.60" cy="369.10" r="2.3" fill="#fff" stroke="#f03a40" stroke-width="1.25"/>
<text x="75.00" y="296.00" font-size="12.5" fill="#111" text-anchor="start" textLength="51.00" lengthAdjust="spacingAndGlyphs" xml:space="preserve">r=0.5301</text>
<text x="130.4" y="296.0" font-size="12.5" font-style="italic">p</text>
<polyline points="147.70,287.40 139.40,291.70 147.70,296.00" fill="none" stroke="#111" stroke-width="0.9"/>
<text x="148.50" y="296.00" font-size="12.5" fill="#111" text-anchor="start" textLength="40.20" lengthAdjust="spacingAndGlyphs" xml:space="preserve">0.0001</text>
<text transform="translate(15.70,364.10) rotate(-90)" font-size="12.5" text-anchor="middle" textLength="97.60" lengthAdjust="spacingAndGlyphs">log<tspan font-size="8.75" dy="2.6">2</tspan><tspan dy="-2.6">FC via qPCR</tspan></text>
<text x="87.30" y="440.30" font-size="12.5" fill="#111" text-anchor="start" textLength="34.50" lengthAdjust="spacingAndGlyphs" xml:space="preserve">eGFR</text>
<text x="122.20" y="440.30" font-size="11.88" fill="#444" stroke="none">(</text>
<text x="128.30" y="440.30" font-size="12.5" fill="#111" text-anchor="start" textLength="41.20" lengthAdjust="spacingAndGlyphs" xml:space="preserve">mL/min</text>
<text x="172.60" y="440.30" font-size="11.88" fill="#444" stroke="none">)</text>
<line x1="281.20" y1="306.90" x2="281.20" y2="421.50" stroke="#111" stroke-width="1.4" stroke-linecap="butt"/>
<line x1="276.20" y1="307.50" x2="281.20" y2="307.50" stroke="#111" stroke-width="1.3" stroke-linecap="butt"/>
<text x="274.90" y="310.92" font-size="9.5" text-anchor="end" fill="#111" stroke="#111" >10</text>
<line x1="276.20" y1="330.18" x2="281.20" y2="330.18" stroke="#111" stroke-width="1.3" stroke-linecap="butt"/>
<text x="274.90" y="333.60" font-size="9.5" text-anchor="end" fill="#111" stroke="#111" >5</text>
<line x1="276.20" y1="352.86" x2="281.20" y2="352.86" stroke="#111" stroke-width="1.3" stroke-linecap="butt"/>
<text x="274.90" y="356.28" font-size="9.5" text-anchor="end" fill="#111" stroke="#111" >0</text>
<line x1="276.20" y1="375.54" x2="281.20" y2="375.54" stroke="#111" stroke-width="1.3" stroke-linecap="butt"/>
<text x="274.90" y="378.96" font-size="9.5" text-anchor="end" fill="#111" stroke="#111" >-5</text>
<line x1="276.20" y1="398.22" x2="281.20" y2="398.22" stroke="#111" stroke-width="1.3" stroke-linecap="butt"/>
<text x="274.90" y="401.64" font-size="9.5" text-anchor="end" fill="#111" stroke="#111" >-10</text>
<line x1="276.20" y1="420.90" x2="281.20" y2="420.90" stroke="#111" stroke-width="1.3" stroke-linecap="butt"/>
<text x="274.90" y="424.32" font-size="9.5" text-anchor="end" fill="#111" stroke="#111" >-15</text>
<line x1="276.20" y1="352.70" x2="450.70" y2="352.70" stroke="#111" stroke-width="1.5" stroke-linecap="butt"/>
<line x1="323.80" y1="352.70" x2="323.80" y2="347.70" stroke="#111" stroke-width="1.3" stroke-linecap="butt"/>
<text x="323.80" y="363.90" font-size="9.5" text-anchor="middle" fill="#111" stroke="#111" >200</text>
<line x1="366.00" y1="352.70" x2="366.00" y2="347.70" stroke="#111" stroke-width="1.3" stroke-linecap="butt"/>
<text x="366.00" y="363.90" font-size="9.5" text-anchor="middle" fill="#111" stroke="#111" >400</text>
<line x1="408.30" y1="352.70" x2="408.30" y2="347.70" stroke="#111" stroke-width="1.3" stroke-linecap="butt"/>
<text x="408.30" y="363.90" font-size="9.5" text-anchor="middle" fill="#111" stroke="#111" >600</text>
<line x1="450.70" y1="352.70" x2="450.70" y2="347.70" stroke="#111" stroke-width="1.3" stroke-linecap="butt"/>
<text x="450.70" y="363.90" font-size="9.5" text-anchor="middle" fill="#111" stroke="#111" >800</text>
<line x1="312.80" y1="353.40" x2="418.80" y2="377.70" stroke="#111" stroke-width="1.3" stroke-linecap="butt"/>
<circle cx="319.50" cy="324.40" r="2.3" fill="#fff" stroke="#f03a40" stroke-width="1.25"/>
<circle cx="298.90" cy="327.60" r="2.3" fill="#fff" stroke="#f03a40" stroke-width="1.25"/>
<circle cx="296.90" cy="331.10" r="2.3" fill="#fff" stroke="#f03a40" stroke-width="1.25"/>
<circle cx="292.80" cy="334.60" r="2.3" fill="#fff" stroke="#f03a40" stroke-width="1.25"/>
<circle cx="292.60" cy="337.50" r="2.3" fill="#fff" stroke="#f03a40" stroke-width="1.25"/>
<circle cx="294.60" cy="339.30" r="2.3" fill="#fff" stroke="#f03a40" stroke-width="1.25"/>
<circle cx="299.90" cy="336.40" r="2.3" fill="#fff" stroke="#f03a40" stroke-width="1.25"/>
<circle cx="330.50" cy="341.40" r="2.3" fill="#fff" stroke="#f03a40" stroke-width="1.25"/>
<circle cx="301.00" cy="342.80" r="2.3" fill="#fff" stroke="#f03a40" stroke-width="1.25"/>
<circle cx="305.10" cy="343.40" r="2.3" fill="#fff" stroke="#f03a40" stroke-width="1.25"/>
<circle cx="302.80" cy="341.60" r="2.3" fill="#fff" stroke="#f03a40" stroke-width="1.25"/>
<circle cx="294.60" cy="345.70" r="2.3" fill="#fff" stroke="#f03a40" stroke-width="1.25"/>
<circle cx="297.50" cy="346.60" r="2.3" fill="#fff" stroke="#f03a40" stroke-width="1.25"/>
<circle cx="300.40" cy="347.40" r="2.3" fill="#fff" stroke="#f03a40" stroke-width="1.25"/>
<circle cx="303.40" cy="346.90" r="2.3" fill="#fff" stroke="#f03a40" stroke-width="1.25"/>
<circle cx="311.30" cy="349.40" r="2.3" fill="#fff" stroke="#f03a40" stroke-width="1.25"/>
<circle cx="323.80" cy="347.70" r="2.3" fill="#fff" stroke="#f03a40" stroke-width="1.25"/>
<circle cx="340.70" cy="349.00" r="2.3" fill="#fff" stroke="#f03a40" stroke-width="1.25"/>
<circle cx="348.30" cy="350.40" r="2.3" fill="#fff" stroke="#f03a40" stroke-width="1.25"/>
<circle cx="293.40" cy="350.90" r="2.3" fill="#fff" stroke="#f03a40" stroke-width="1.25"/>
<circle cx="296.90" cy="350.60" r="2.3" fill="#fff" stroke="#f03a40" stroke-width="1.25"/>
<circle cx="300.10" cy="350.90" r="2.3" fill="#fff" stroke="#f03a40" stroke-width="1.25"/>
<circle cx="303.90" cy="351.50" r="2.3" fill="#fff" stroke="#f03a40" stroke-width="1.25"/>
<circle cx="319.70" cy="351.30" r="2.3" fill="#fff" stroke="#f03a40" stroke-width="1.25"/>
<circle cx="294.00" cy="355.60" r="2.3" fill="#fff" stroke="#f03a40" stroke-width="1.25"/>
<circle cx="296.90" cy="358.50" r="2.3" fill="#fff" stroke="#f03a40" stroke-width="1.25"/>
<circle cx="302.80" cy="354.50" r="2.3" fill="#fff" stroke="#f03a40" stroke-width="1.25"/>
<circle cx="308.60" cy="354.50" r="2.3" fill="#fff" stroke="#f03a40" stroke-width="1.25"/>
<circle cx="314.20" cy="354.50" r="2.3" fill="#fff" stroke="#f03a40" stroke-width="1.25"/>
<circle cx="312.50" cy="358.00" r="2.3" fill="#fff" stroke="#f03a40" stroke-width="1.25"/>
<circle cx="306.90" cy="361.50" r="2.3" fill="#fff" stroke="#f03a40" stroke-width="1.25"/>
<circle cx="315.00" cy="361.50" r="2.3" fill="#fff" stroke="#f03a40" stroke-width="1.25"/>
<circle cx="296.40" cy="362.60" r="2.3" fill="#fff" stroke="#f03a40" stroke-width="1.25"/>
<circle cx="298.90" cy="365.00" r="2.3" fill="#fff" stroke="#f03a40" stroke-width="1.25"/>
<circle cx="298.10" cy="366.10" r="2.3" fill="#fff" stroke="#f03a40" stroke-width="1.25"/>
<circle cx="293.80" cy="368.80" r="2.3" fill="#fff" stroke="#f03a40" stroke-width="1.25"/>
<circle cx="322.00" cy="359.70" r="2.3" fill="#fff" stroke="#f03a40" stroke-width="1.25"/>
<circle cx="323.80" cy="363.40" r="2.3" fill="#fff" stroke="#f03a40" stroke-width="1.25"/>
<circle cx="318.50" cy="366.10" r="2.3" fill="#fff" stroke="#f03a40" stroke-width="1.25"/>
<circle cx="313.30" cy="367.90" r="2.3" fill="#fff" stroke="#f03a40" stroke-width="1.25"/>
<circle cx="313.30" cy="373.70" r="2.3" fill="#fff" stroke="#f03a40" stroke-width="1.25"/>
<circle cx="348.30" cy="356.20" r="2.3" fill="#fff" stroke="#f03a40" stroke-width="1.25"/>
<circle cx="348.30" cy="361.10" r="2.3" fill="#fff" stroke="#f03a40" stroke-width="1.25"/>
<circle cx="330.50" cy="369.60" r="2.3" fill="#fff" stroke="#f03a40" stroke-width="1.25"/>
<circle cx="349.50" cy="370.20" r="2.3" fill="#fff" stroke="#f03a40" stroke-width="1.25"/>
<circle cx="341.40" cy="348.90" r="2.3" fill="#fff" stroke="#f03a40" stroke-width="1.25"/>
<circle cx="347.90" cy="350.50" r="2.3" fill="#fff" stroke="#f03a40" stroke-width="1.25"/>
<circle cx="348.40" cy="355.90" r="2.3" fill="#fff" stroke="#f03a40" stroke-width="1.25"/>
<circle cx="348.40" cy="361.20" r="2.3" fill="#fff" stroke="#f03a40" stroke-width="1.25"/>
<circle cx="349.60" cy="370.30" r="2.3" fill="#fff" stroke="#f03a40" stroke-width="1.25"/>
<circle cx="363.10" cy="348.40" r="2.3" fill="#fff" stroke="#f03a40" stroke-width="1.25"/>
<circle cx="367.50" cy="343.70" r="2.3" fill="#fff" stroke="#f03a40" stroke-width="1.25"/>
<circle cx="365.80" cy="355.90" r="2.3" fill="#fff" stroke="#f03a40" stroke-width="1.25"/>
<circle cx="388.70" cy="350.10" r="2.3" fill="#fff" stroke="#f03a40" stroke-width="1.25"/>
<circle cx="394.00" cy="368.00" r="2.3" fill="#fff" stroke="#f03a40" stroke-width="1.25"/>
<circle cx="400.40" cy="397.80" r="2.3" fill="#fff" stroke="#f03a40" stroke-width="1.25"/>
<circle cx="418.50" cy="407.10" r="2.3" fill="#fff" stroke="#f03a40" stroke-width="1.25"/>
<text x="307.70" y="299.20" font-size="12.5" fill="#111" text-anchor="start" textLength="57.20" lengthAdjust="spacingAndGlyphs" xml:space="preserve">r= -0.4863</text>
<text x="371.2" y="299.2" font-size="12.5" font-style="italic">p</text>
<polyline points="390.10,290.60 381.20,294.90 390.10,299.20" fill="none" stroke="#111" stroke-width="0.9"/>
<text x="390.50" y="299.20" font-size="12.5" fill="#111" text-anchor="start" textLength="31.20" lengthAdjust="spacingAndGlyphs" xml:space="preserve">0.001</text>
<text transform="translate(253.30,363.60) rotate(-90)" font-size="12.5" text-anchor="middle" textLength="94.50" lengthAdjust="spacingAndGlyphs">log<tspan font-size="8.75" dy="2.6">2</tspan><tspan dy="-2.6">FC via qPCR</tspan></text>
<text x="332.60" y="430.40" font-size="12.6" fill="#111" text-anchor="start" textLength="65.60" lengthAdjust="spacingAndGlyphs" xml:space="preserve">Scr(μmol/L)</text>
<line x1="508.90" y1="312.60" x2="508.90" y2="421.10" stroke="#111" stroke-width="1.4" stroke-linecap="butt"/>
<line x1="503.90" y1="313.20" x2="508.90" y2="313.20" stroke="#111" stroke-width="1.3" stroke-linecap="butt"/>
<text x="502.60" y="316.62" font-size="9.5" text-anchor="end" fill="#111" stroke="#111" >10</text>
<line x1="503.90" y1="334.66" x2="508.90" y2="334.66" stroke="#111" stroke-width="1.3" stroke-linecap="butt"/>
<text x="502.60" y="338.08" font-size="9.5" text-anchor="end" fill="#111" stroke="#111" >5</text>
<line x1="503.90" y1="356.12" x2="508.90" y2="356.12" stroke="#111" stroke-width="1.3" stroke-linecap="butt"/>
<text x="502.60" y="359.54" font-size="9.5" text-anchor="end" fill="#111" stroke="#111" >0</text>
<line x1="503.90" y1="377.58" x2="508.90" y2="377.58" stroke="#111" stroke-width="1.3" stroke-linecap="butt"/>
<text x="502.60" y="381.00" font-size="9.5" text-anchor="end" fill="#111" stroke="#111" >-5</text>
<line x1="503.90" y1="399.04" x2="508.90" y2="399.04" stroke="#111" stroke-width="1.3" stroke-linecap="butt"/>
<text x="502.60" y="402.46" font-size="9.5" text-anchor="end" fill="#111" stroke="#111" >-10</text>
<line x1="503.90" y1="420.50" x2="508.90" y2="420.50" stroke="#111" stroke-width="1.3" stroke-linecap="butt"/>
<text x="502.60" y="423.92" font-size="9.5" text-anchor="end" fill="#111" stroke="#111" >-15</text>
<line x1="503.90" y1="356.10" x2="671.70" y2="356.10" stroke="#111" stroke-width="1.5" stroke-linecap="butt"/>
<line x1="541.50" y1="356.10" x2="541.50" y2="351.10" stroke="#111" stroke-width="1.3" stroke-linecap="butt"/>
<text x="541.50" y="367.30" font-size="9.5" text-anchor="middle" fill="#111" stroke="#111" >10</text>
<line x1="574.10" y1="356.10" x2="574.10" y2="351.10" stroke="#111" stroke-width="1.3" stroke-linecap="butt"/>
<text x="574.10" y="367.30" font-size="9.5" text-anchor="middle" fill="#111" stroke="#111" >20</text>
<line x1="606.60" y1="356.10" x2="606.60" y2="351.10" stroke="#111" stroke-width="1.3" stroke-linecap="butt"/>
<text x="606.60" y="367.30" font-size="9.5" text-anchor="middle" fill="#111" stroke="#111" >30</text>
<line x1="639.10" y1="356.10" x2="639.10" y2="351.10" stroke="#111" stroke-width="1.3" stroke-linecap="butt"/>
<text x="639.10" y="367.30" font-size="9.5" text-anchor="middle" fill="#111" stroke="#111" >40</text>
<line x1="671.70" y1="356.10" x2="671.70" y2="351.10" stroke="#111" stroke-width="1.3" stroke-linecap="butt"/>
<text x="671.70" y="367.30" font-size="9.5" text-anchor="middle" fill="#111" stroke="#111" >50</text>
<line x1="519.20" y1="352.20" x2="635.80" y2="376.70" stroke="#111" stroke-width="1.3" stroke-linecap="butt"/>
<circle cx="544.70" cy="329.20" r="2.3" fill="#fff" stroke="#f03a40" stroke-width="1.25"/>
<circle cx="522.30" cy="332.10" r="2.3" fill="#fff" stroke="#f03a40" stroke-width="1.25"/>
<circle cx="519.70" cy="335.40" r="2.3" fill="#fff" stroke="#f03a40" stroke-width="1.25"/>
<circle cx="527.10" cy="340.60" r="2.3" fill="#fff" stroke="#f03a40" stroke-width="1.25"/>
<circle cx="530.00" cy="341.40" r="2.3" fill="#fff" stroke="#f03a40" stroke-width="1.25"/>
<circle cx="555.30" cy="339.10" r="2.3" fill="#fff" stroke="#f03a40" stroke-width="1.25"/>
<circle cx="542.40" cy="343.40" r="2.3" fill="#fff" stroke="#f03a40" stroke-width="1.25"/>
<circle cx="524.10" cy="345.60" r="2.3" fill="#fff" stroke="#f03a40" stroke-width="1.25"/>
<circle cx="532.90" cy="347.20" r="2.3" fill="#fff" stroke="#f03a40" stroke-width="1.25"/>
<circle cx="523.40" cy="348.60" r="2.3" fill="#fff" stroke="#f03a40" stroke-width="1.25"/>
<circle cx="537.20" cy="350.20" r="2.3" fill="#fff" stroke="#f03a40" stroke-width="1.25"/>
<circle cx="546.00" cy="350.20" r="2.3" fill="#fff" stroke="#f03a40" stroke-width="1.25"/>
<circle cx="554.00" cy="347.60" r="2.3" fill="#fff" stroke="#f03a40" stroke-width="1.25"/>
<circle cx="564.10" cy="345.20" r="2.3" fill="#fff" stroke="#f03a40" stroke-width="1.25"/>
<circle cx="564.10" cy="352.20" r="2.3" fill="#fff" stroke="#f03a40" stroke-width="1.25"/>
<circle cx="557.60" cy="353.10" r="2.3" fill="#fff" stroke="#f03a40" stroke-width="1.25"/>
<circle cx="552.30" cy="354.80" r="2.3" fill="#fff" stroke="#f03a40" stroke-width="1.25"/>
<circle cx="530.60" cy="352.80" r="2.3" fill="#fff" stroke="#f03a40" stroke-width="1.25"/>
<circle cx="534.60" cy="354.80" r="2.3" fill="#fff" stroke="#f03a40" stroke-width="1.25"/>
<circle cx="523.40" cy="353.90" r="2.3" fill="#fff" stroke="#f03a40" stroke-width="1.25"/>
<circle cx="528.00" cy="356.10" r="2.3" fill="#fff" stroke="#f03a40" stroke-width="1.25"/>
<circle cx="538.90" cy="353.50" r="2.3" fill="#fff" stroke="#f03a40" stroke-width="1.25"/>
<circle cx="543.10" cy="356.10" r="2.3" fill="#fff" stroke="#f03a40" stroke-width="1.25"/>
<circle cx="547.30" cy="358.10" r="2.3" fill="#fff" stroke="#f03a40" stroke-width="1.25"/>
<circle cx="533.20" cy="358.80" r="2.3" fill="#fff" stroke="#f03a40" stroke-width="1.25"/>
<circle cx="532.90" cy="361.40" r="2.3" fill="#fff" stroke="#f03a40" stroke-width="1.25"/>
<circle cx="539.40" cy="361.80" r="2.3" fill="#fff" stroke="#f03a40" stroke-width="1.25"/>
<circle cx="545.10" cy="362.00" r="2.3" fill="#fff" stroke="#f03a40" stroke-width="1.25"/>
<circle cx="561.50" cy="359.40" r="2.3" fill="#fff" stroke="#f03a40" stroke-width="1.25"/>
<circle cx="563.50" cy="363.40" r="2.3" fill="#fff" stroke="#f03a40" stroke-width="1.25"/>
<circle cx="535.20" cy="365.30" r="2.3" fill="#fff" stroke="#f03a40" stroke-width="1.25"/>
<circle cx="540.50" cy="364.70" r="2.3" fill="#fff" stroke="#f03a40" stroke-width="1.25"/>
<circle cx="545.70" cy="366.20" r="2.3" fill="#fff" stroke="#f03a40" stroke-width="1.25"/>
<circle cx="556.90" cy="364.70" r="2.3" fill="#fff" stroke="#f03a40" stroke-width="1.25"/>
<circle cx="557.30" cy="369.50" r="2.3" fill="#fff" stroke="#f03a40" stroke-width="1.25"/>
<circle cx="546.40" cy="369.30" r="2.3" fill="#fff" stroke="#f03a40" stroke-width="1.25"/>
<circle cx="539.40" cy="370.20" r="2.3" fill="#fff" stroke="#f03a40" stroke-width="1.25"/>
<circle cx="549.30" cy="372.80" r="2.3" fill="#fff" stroke="#f03a40" stroke-width="1.25"/>
<circle cx="559.10" cy="373.20" r="2.3" fill="#fff" stroke="#f03a40" stroke-width="1.25"/>
<circle cx="541.50" cy="376.80" r="2.3" fill="#fff" stroke="#f03a40" stroke-width="1.25"/>
<circle cx="522.50" cy="368.60" r="2.3" fill="#fff" stroke="#f03a40" stroke-width="1.25"/>
<circle cx="573.10" cy="353.90" r="2.3" fill="#fff" stroke="#f03a40" stroke-width="1.25"/>
<circle cx="576.30" cy="355.20" r="2.3" fill="#fff" stroke="#f03a40" stroke-width="1.25"/>
<circle cx="585.40" cy="364.40" r="2.3" fill="#fff" stroke="#f03a40" stroke-width="1.25"/>
<circle cx="587.50" cy="371.20" r="2.3" fill="#fff" stroke="#f03a40" stroke-width="1.25"/>
<circle cx="594.30" cy="359.40" r="2.3" fill="#fff" stroke="#f03a40" stroke-width="1.25"/>
<circle cx="569.60" cy="399.50" r="2.3" fill="#fff" stroke="#f03a40" stroke-width="1.25"/>
<circle cx="545.30" cy="408.30" r="2.3" fill="#fff" stroke="#f03a40" stroke-width="1.25"/>
<circle cx="595.30" cy="359.50" r="2.3" fill="#fff" stroke="#f03a40" stroke-width="1.25"/>
<circle cx="602.20" cy="371.30" r="2.3" fill="#fff" stroke="#f03a40" stroke-width="1.25"/>
<circle cx="635.20" cy="371.90" r="2.3" fill="#fff" stroke="#f03a40" stroke-width="1.25"/>
<circle cx="525.50" cy="350.50" r="2.3" fill="#fff" stroke="#f03a40" stroke-width="1.25"/>
<circle cx="529.00" cy="349.00" r="2.3" fill="#fff" stroke="#f03a40" stroke-width="1.25"/>
<text x="530.30" y="292.90" font-size="12.5" fill="#111" text-anchor="start" textLength="110.00" lengthAdjust="spacingAndGlyphs" xml:space="preserve">r=-0.3433 <tspan font-style="italic">p</tspan> =0.0039</text>
<text transform="translate(482.80,366.80) rotate(-90)" font-size="12.5" text-anchor="middle" textLength="91.30" lengthAdjust="spacingAndGlyphs">log<tspan font-size="8.75" dy="2.6">2</tspan><tspan dy="-2.6">FC via qPCR</tspan></text>
<text x="555.60" y="430.50" font-size="12.2" fill="#111" text-anchor="start" textLength="68.80" lengthAdjust="spacingAndGlyphs" xml:space="preserve">Bun(mmol/L)</text>
<line x1="49.20" y1="551.40" x2="49.20" y2="665.00" stroke="#111" stroke-width="1.4" stroke-linecap="butt"/>
<line x1="44.20" y1="552.00" x2="49.20" y2="552.00" stroke="#111" stroke-width="1.3" stroke-linecap="butt"/>
<text x="42.90" y="555.42" font-size="9.5" text-anchor="end" fill="#111" stroke="#111" >10</text>
<line x1="44.20" y1="574.48" x2="49.20" y2="574.48" stroke="#111" stroke-width="1.3" stroke-linecap="butt"/>
<text x="42.90" y="577.90" font-size="9.5" text-anchor="end" fill="#111" stroke="#111" >5</text>
<line x1="44.20" y1="596.96" x2="49.20" y2="596.96" stroke="#111" stroke-width="1.3" stroke-linecap="butt"/>
<text x="42.90" y="600.38" font-size="9.5" text-anchor="end" fill="#111" stroke="#111" >0</text>
<line x1="44.20" y1="619.44" x2="49.20" y2="619.44" stroke="#111" stroke-width="1.3" stroke-linecap="butt"/>
<text x="42.90" y="622.86" font-size="9.5" text-anchor="end" fill="#111" stroke="#111" >-5</text>
<line x1="44.20" y1="641.92" x2="49.20" y2="641.92" stroke="#111" stroke-width="1.3" stroke-linecap="butt"/>
<text x="42.90" y="645.34" font-size="9.5" text-anchor="end" fill="#111" stroke="#111" >-10</text>
<line x1="44.20" y1="664.40" x2="49.20" y2="664.40" stroke="#111" stroke-width="1.3" stroke-linecap="butt"/>
<text x="42.90" y="667.82" font-size="9.5" text-anchor="end" fill="#111" stroke="#111" >-15</text>
<line x1="44.20" y1="596.60" x2="215.10" y2="596.60" stroke="#111" stroke-width="1.5" stroke-linecap="butt"/>
<line x1="104.50" y1="596.60" x2="104.50" y2="591.60" stroke="#111" stroke-width="1.3" stroke-linecap="butt"/>
<text x="104.50" y="607.80" font-size="9.5" text-anchor="middle" fill="#111" stroke="#111" >50</text>
<line x1="159.60" y1="596.60" x2="159.60" y2="591.60" stroke="#111" stroke-width="1.3" stroke-linecap="butt"/>
<text x="159.60" y="607.80" font-size="9.5" text-anchor="middle" fill="#111" stroke="#111" >100</text>
<line x1="215.10" y1="596.60" x2="215.10" y2="591.60" stroke="#111" stroke-width="1.3" stroke-linecap="butt"/>
<text x="215.10" y="607.80" font-size="9.5" text-anchor="middle" fill="#111" stroke="#111" >150</text>
<line x1="80.90" y1="592.70" x2="182.10" y2="583.00" stroke="#7c9cb9" stroke-width="1.1" stroke-linecap="butt"/>
<circle cx="80.90" cy="586.90" r="2.25" fill="#fff" stroke="#a6c9e9" stroke-width="1.05"/>
<circle cx="91.50" cy="585.10" r="2.25" fill="#fff" stroke="#a6c9e9" stroke-width="1.05"/>
<circle cx="100.10" cy="578.10" r="2.25" fill="#fff" stroke="#a6c9e9" stroke-width="1.05"/>
<circle cx="100.70" cy="581.80" r="2.25" fill="#fff" stroke="#a6c9e9" stroke-width="1.05"/>
<circle cx="115.20" cy="566.40" r="2.25" fill="#fff" stroke="#a6c9e9" stroke-width="1.05"/>
<circle cx="124.00" cy="566.90" r="2.25" fill="#fff" stroke="#a6c9e9" stroke-width="1.05"/>
<circle cx="108.90" cy="586.00" r="2.25" fill="#fff" stroke="#a6c9e9" stroke-width="1.05"/>
<circle cx="108.20" cy="589.50" r="2.25" fill="#fff" stroke="#a6c9e9" stroke-width="1.05"/>
<circle cx="105.90" cy="592.10" r="2.25" fill="#fff" stroke="#a6c9e9" stroke-width="1.05"/>
<circle cx="118.20" cy="584.40" r="2.25" fill="#fff" stroke="#a6c9e9" stroke-width="1.05"/>
<circle cx="114.70" cy="590.90" r="2.25" fill="#fff" stroke="#a6c9e9" stroke-width="1.05"/>
<circle cx="117.30" cy="592.10" r="2.25" fill="#fff" stroke="#a6c9e9" stroke-width="1.05"/>
<circle cx="114.10" cy="594.40" r="2.25" fill="#fff" stroke="#a6c9e9" stroke-width="1.05"/>
<circle cx="107.70" cy="599.10" r="2.25" fill="#fff" stroke="#a6c9e9" stroke-width="1.05"/>
<circle cx="110.00" cy="604.40" r="2.25" fill="#fff" stroke="#a6c9e9" stroke-width="1.05"/>
<circle cx="102.90" cy="607.00" r="2.25" fill="#fff" stroke="#a6c9e9" stroke-width="1.05"/>
<circle cx="98.00" cy="607.90" r="2.25" fill="#fff" stroke="#a6c9e9" stroke-width="1.05"/>
<circle cx="117.30" cy="603.50" r="2.25" fill="#fff" stroke="#a6c9e9" stroke-width="1.05"/>
<circle cx="121.70" cy="603.50" r="2.25" fill="#fff" stroke="#a6c9e9" stroke-width="1.05"/>
<circle cx="118.70" cy="610.70" r="2.25" fill="#fff" stroke="#a6c9e9" stroke-width="1.05"/>
<circle cx="124.00" cy="610.50" r="2.25" fill="#fff" stroke="#a6c9e9" stroke-width="1.05"/>
<circle cx="127.50" cy="600.90" r="2.25" fill="#fff" stroke="#a6c9e9" stroke-width="1.05"/>
<circle cx="131.00" cy="595.00" r="2.25" fill="#fff" stroke="#a6c9e9" stroke-width="1.05"/>
<circle cx="136.60" cy="591.40" r="2.25" fill="#fff" stroke="#a6c9e9" stroke-width="1.05"/>
<circle cx="130.40" cy="575.70" r="2.25" fill="#fff" stroke="#a6c9e9" stroke-width="1.05"/>
<circle cx="133.40" cy="572.50" r="2.25" fill="#fff" stroke="#a6c9e9" stroke-width="1.05"/>
<circle cx="133.40" cy="580.10" r="2.25" fill="#fff" stroke="#a6c9e9" stroke-width="1.05"/>
<circle cx="133.90" cy="584.80" r="2.25" fill="#fff" stroke="#a6c9e9" stroke-width="1.05"/>
<circle cx="139.20" cy="569.00" r="2.25" fill="#fff" stroke="#a6c9e9" stroke-width="1.05"/>
<circle cx="139.20" cy="576.00" r="2.25" fill="#fff" stroke="#a6c9e9" stroke-width="1.05"/>
<circle cx="141.80" cy="583.00" r="2.25" fill="#fff" stroke="#a6c9e9" stroke-width="1.05"/>
<circle cx="145.30" cy="573.90" r="2.25" fill="#fff" stroke="#a6c9e9" stroke-width="1.05"/>
<circle cx="147.10" cy="562.90" r="2.25" fill="#fff" stroke="#a6c9e9" stroke-width="1.05"/>
<circle cx="148.80" cy="567.30" r="2.25" fill="#fff" stroke="#a6c9e9" stroke-width="1.05"/>
<circle cx="150.60" cy="566.40" r="2.25" fill="#fff" stroke="#a6c9e9" stroke-width="1.05"/>
<circle cx="152.30" cy="573.40" r="2.25" fill="#fff" stroke="#a6c9e9" stroke-width="1.05"/>
<circle cx="145.30" cy="577.80" r="2.25" fill="#fff" stroke="#a6c9e9" stroke-width="1.05"/>
<circle cx="148.00" cy="580.90" r="2.25" fill="#fff" stroke="#a6c9e9" stroke-width="1.05"/>
<circle cx="151.50" cy="581.60" r="2.25" fill="#fff" stroke="#a6c9e9" stroke-width="1.05"/>
<circle cx="145.30" cy="587.90" r="2.25" fill="#fff" stroke="#a6c9e9" stroke-width="1.05"/>
<circle cx="145.70" cy="592.70" r="2.25" fill="#fff" stroke="#a6c9e9" stroke-width="1.05"/>
<circle cx="146.20" cy="597.90" r="2.25" fill="#fff" stroke="#a6c9e9" stroke-width="1.05"/>
<circle cx="149.70" cy="587.40" r="2.25" fill="#fff" stroke="#a6c9e9" stroke-width="1.05"/>
<circle cx="153.20" cy="599.70" r="2.25" fill="#fff" stroke="#a6c9e9" stroke-width="1.05"/>
<circle cx="155.00" cy="588.30" r="2.25" fill="#fff" stroke="#a6c9e9" stroke-width="1.05"/>
<circle cx="155.80" cy="582.20" r="2.25" fill="#fff" stroke="#a6c9e9" stroke-width="1.05"/>
<circle cx="157.60" cy="578.10" r="2.25" fill="#fff" stroke="#a6c9e9" stroke-width="1.05"/>
<circle cx="160.20" cy="572.50" r="2.25" fill="#fff" stroke="#a6c9e9" stroke-width="1.05"/>
<circle cx="159.30" cy="586.20" r="2.25" fill="#fff" stroke="#a6c9e9" stroke-width="1.05"/>
<circle cx="158.50" cy="592.70" r="2.25" fill="#fff" stroke="#a6c9e9" stroke-width="1.05"/>
<circle cx="160.20" cy="597.00" r="2.25" fill="#fff" stroke="#a6c9e9" stroke-width="1.05"/>
<circle cx="161.10" cy="581.30" r="2.25" fill="#fff" stroke="#a6c9e9" stroke-width="1.05"/>
<circle cx="164.60" cy="581.60" r="2.25" fill="#fff" stroke="#a6c9e9" stroke-width="1.05"/>
<circle cx="166.70" cy="573.40" r="2.25" fill="#fff" stroke="#a6c9e9" stroke-width="1.05"/>
<circle cx="169.00" cy="575.70" r="2.25" fill="#fff" stroke="#a6c9e9" stroke-width="1.05"/>
<circle cx="162.50" cy="597.40" r="2.25" fill="#fff" stroke="#a6c9e9" stroke-width="1.05"/>
<circle cx="165.50" cy="600.90" r="2.25" fill="#fff" stroke="#a6c9e9" stroke-width="1.05"/>
<circle cx="168.50" cy="593.20" r="2.25" fill="#fff" stroke="#a6c9e9" stroke-width="1.05"/>
<circle cx="170.70" cy="591.40" r="2.25" fill="#fff" stroke="#a6c9e9" stroke-width="1.05"/>
<circle cx="170.20" cy="587.10" r="2.25" fill="#fff" stroke="#a6c9e9" stroke-width="1.05"/>
<circle cx="174.80" cy="584.40" r="2.25" fill="#fff" stroke="#a6c9e9" stroke-width="1.05"/>
<circle cx="175.50" cy="588.60" r="2.25" fill="#fff" stroke="#a6c9e9" stroke-width="1.05"/>
<circle cx="177.20" cy="582.20" r="2.25" fill="#fff" stroke="#a6c9e9" stroke-width="1.05"/>
<circle cx="177.20" cy="567.30" r="2.25" fill="#fff" stroke="#a6c9e9" stroke-width="1.05"/>
<circle cx="181.20" cy="589.20" r="2.25" fill="#fff" stroke="#a6c9e9" stroke-width="1.05"/>
<circle cx="183.90" cy="584.40" r="2.25" fill="#fff" stroke="#a6c9e9" stroke-width="1.05"/>
<circle cx="176.50" cy="618.40" r="2.25" fill="#fff" stroke="#a6c9e9" stroke-width="1.05"/>
<circle cx="154.10" cy="593.90" r="2.25" fill="#fff" stroke="#a6c9e9" stroke-width="1.05"/>
<text x="73.90" y="542.20" font-size="13.1" fill="#111" text-anchor="start" textLength="116.60" lengthAdjust="spacingAndGlyphs" xml:space="preserve">r=0.1833 <tspan font-style="italic">p</tspan>=0.0952</text>
<text transform="translate(22.20,607.80) rotate(-90)" font-size="12.5" text-anchor="middle" textLength="93.60" lengthAdjust="spacingAndGlyphs">log<tspan font-size="8.75" dy="2.6">2</tspan><tspan dy="-2.6">FC via qPCR</tspan></text>
<text x="89.40" y="676.40" font-size="12.2" fill="#111" text-anchor="start" textLength="32.60" lengthAdjust="spacingAndGlyphs" xml:space="preserve">eGFR</text>
<text x="122.30" y="676.40" font-size="11.59" fill="#444" stroke="none">(</text>
<text x="127.80" y="676.40" font-size="12.2" fill="#111" text-anchor="start" textLength="38.80" lengthAdjust="spacingAndGlyphs" xml:space="preserve">mL/min</text>
<text x="169.90" y="676.40" font-size="11.59" fill="#444" stroke="none">)</text>
<line x1="274.80" y1="550.40" x2="274.80" y2="664.80" stroke="#111" stroke-width="1.4" stroke-linecap="butt"/>
<line x1="269.80" y1="551.00" x2="274.80" y2="551.00" stroke="#111" stroke-width="1.3" stroke-linecap="butt"/>
<text x="268.50" y="554.42" font-size="9.5" text-anchor="end" fill="#111" stroke="#111" >10</text>
<line x1="269.80" y1="573.64" x2="274.80" y2="573.64" stroke="#111" stroke-width="1.3" stroke-linecap="butt"/>
<text x="268.50" y="577.06" font-size="9.5" text-anchor="end" fill="#111" stroke="#111" >5</text>
<line x1="269.80" y1="596.28" x2="274.80" y2="596.28" stroke="#111" stroke-width="1.3" stroke-linecap="butt"/>
<text x="268.50" y="599.70" font-size="9.5" text-anchor="end" fill="#111" stroke="#111" >0</text>
<line x1="269.80" y1="618.92" x2="274.80" y2="618.92" stroke="#111" stroke-width="1.3" stroke-linecap="butt"/>
<text x="268.50" y="622.34" font-size="9.5" text-anchor="end" fill="#111" stroke="#111" >-5</text>
<line x1="269.80" y1="641.56" x2="274.80" y2="641.56" stroke="#111" stroke-width="1.3" stroke-linecap="butt"/>
<text x="268.50" y="644.98" font-size="9.5" text-anchor="end" fill="#111" stroke="#111" >-10</text>
<line x1="269.80" y1="664.20" x2="274.80" y2="664.20" stroke="#111" stroke-width="1.3" stroke-linecap="butt"/>
<text x="268.50" y="667.62" font-size="9.5" text-anchor="end" fill="#111" stroke="#111" >-15</text>
<line x1="269.80" y1="596.00" x2="445.30" y2="596.00" stroke="#111" stroke-width="1.5" stroke-linecap="butt"/>
<line x1="317.40" y1="596.00" x2="317.40" y2="591.00" stroke="#111" stroke-width="1.3" stroke-linecap="butt"/>
<text x="317.40" y="607.20" font-size="9.5" text-anchor="middle" fill="#111" stroke="#111" >50</text>
<line x1="360.20" y1="596.00" x2="360.20" y2="591.00" stroke="#111" stroke-width="1.3" stroke-linecap="butt"/>
<text x="360.20" y="607.20" font-size="9.5" text-anchor="middle" fill="#111" stroke="#111" >100</text>
<line x1="402.90" y1="596.00" x2="402.90" y2="591.00" stroke="#111" stroke-width="1.3" stroke-linecap="butt"/>
<text x="402.90" y="607.20" font-size="9.5" text-anchor="middle" fill="#111" stroke="#111" >150</text>
<line x1="445.30" y1="596.00" x2="445.30" y2="591.00" stroke="#111" stroke-width="1.3" stroke-linecap="butt"/>
<text x="445.30" y="607.20" font-size="9.5" text-anchor="middle" fill="#111" stroke="#111" >200</text>
<line x1="306.90" y1="584.30" x2="439.00" y2="591.30" stroke="#7c9cb9" stroke-width="1.1" stroke-linecap="butt"/>
<circle cx="307.00" cy="588.30" r="2.25" fill="#fff" stroke="#a6c9e9" stroke-width="1.05"/>
<circle cx="310.50" cy="588.30" r="2.25" fill="#fff" stroke="#a6c9e9" stroke-width="1.05"/>
<circle cx="315.40" cy="580.40" r="2.25" fill="#fff" stroke="#a6c9e9" stroke-width="1.05"/>
<circle cx="317.50" cy="574.30" r="2.25" fill="#fff" stroke="#a6c9e9" stroke-width="1.05"/>
<circle cx="319.80" cy="565.90" r="2.25" fill="#fff" stroke="#a6c9e9" stroke-width="1.05"/>
<circle cx="318.40" cy="587.40" r="2.25" fill="#fff" stroke="#a6c9e9" stroke-width="1.05"/>
<circle cx="316.60" cy="597.00" r="2.25" fill="#fff" stroke="#a6c9e9" stroke-width="1.05"/>
<circle cx="316.60" cy="600.60" r="2.25" fill="#fff" stroke="#a6c9e9" stroke-width="1.05"/>
<circle cx="321.00" cy="590.90" r="2.25" fill="#fff" stroke="#a6c9e9" stroke-width="1.05"/>
<circle cx="320.70" cy="598.40" r="2.25" fill="#fff" stroke="#a6c9e9" stroke-width="1.05"/>
<circle cx="321.90" cy="595.30" r="2.25" fill="#fff" stroke="#a6c9e9" stroke-width="1.05"/>
<circle cx="323.30" cy="583.00" r="2.25" fill="#fff" stroke="#a6c9e9" stroke-width="1.05"/>
<circle cx="325.40" cy="582.20" r="2.25" fill="#fff" stroke="#a6c9e9" stroke-width="1.05"/>
<circle cx="327.20" cy="564.10" r="2.25" fill="#fff" stroke="#a6c9e9" stroke-width="1.05"/>
<circle cx="328.00" cy="577.80" r="2.25" fill="#fff" stroke="#a6c9e9" stroke-width="1.05"/>
<circle cx="329.80" cy="573.40" r="2.25" fill="#fff" stroke="#a6c9e9" stroke-width="1.05"/>
<circle cx="330.70" cy="571.60" r="2.25" fill="#fff" stroke="#a6c9e9" stroke-width="1.05"/>
<circle cx="331.90" cy="566.40" r="2.25" fill="#fff" stroke="#a6c9e9" stroke-width="1.05"/>
<circle cx="334.70" cy="564.60" r="2.25" fill="#fff" stroke="#a6c9e9" stroke-width="1.05"/>
<circle cx="337.10" cy="567.30" r="2.25" fill="#fff" stroke="#a6c9e9" stroke-width="1.05"/>
<circle cx="340.60" cy="561.10" r="2.25" fill="#fff" stroke="#a6c9e9" stroke-width="1.05"/>
<circle cx="344.70" cy="565.50" r="2.25" fill="#fff" stroke="#a6c9e9" stroke-width="1.05"/>
<circle cx="333.30" cy="571.10" r="2.25" fill="#fff" stroke="#a6c9e9" stroke-width="1.05"/>
<circle cx="339.40" cy="574.30" r="2.25" fill="#fff" stroke="#a6c9e9" stroke-width="1.05"/>
<circle cx="326.60" cy="587.40" r="2.25" fill="#fff" stroke="#a6c9e9" stroke-width="1.05"/>
<circle cx="331.50" cy="586.50" r="2.25" fill="#fff" stroke="#a6c9e9" stroke-width="1.05"/>
<circle cx="331.90" cy="592.10" r="2.25" fill="#fff" stroke="#a6c9e9" stroke-width="1.05"/>
<circle cx="328.90" cy="597.40" r="2.25" fill="#fff" stroke="#a6c9e9" stroke-width="1.05"/>
<circle cx="335.90" cy="580.40" r="2.25" fill="#fff" stroke="#a6c9e9" stroke-width="1.05"/>
<circle cx="341.20" cy="580.90" r="2.25" fill="#fff" stroke="#a6c9e9" stroke-width="1.05"/>
<circle cx="342.90" cy="580.90" r="2.25" fill="#fff" stroke="#a6c9e9" stroke-width="1.05"/>
<circle cx="335.90" cy="588.30" r="2.25" fill="#fff" stroke="#a6c9e9" stroke-width="1.05"/>
<circle cx="342.90" cy="590.90" r="2.25" fill="#fff" stroke="#a6c9e9" stroke-width="1.05"/>
<circle cx="336.80" cy="601.40" r="2.25" fill="#fff" stroke="#a6c9e9" stroke-width="1.05"/>
<circle cx="342.90" cy="600.20" r="2.25" fill="#fff" stroke="#a6c9e9" stroke-width="1.05"/>
<circle cx="346.40" cy="602.70" r="2.25" fill="#fff" stroke="#a6c9e9" stroke-width="1.05"/>
<circle cx="349.90" cy="602.70" r="2.25" fill="#fff" stroke="#a6c9e9" stroke-width="1.05"/>
<circle cx="345.20" cy="609.70" r="2.25" fill="#fff" stroke="#a6c9e9" stroke-width="1.05"/>
<circle cx="347.70" cy="610.20" r="2.25" fill="#fff" stroke="#a6c9e9" stroke-width="1.05"/>
<circle cx="350.80" cy="590.90" r="2.25" fill="#fff" stroke="#a6c9e9" stroke-width="1.05"/>
<circle cx="350.80" cy="594.40" r="2.25" fill="#fff" stroke="#a6c9e9" stroke-width="1.05"/>
<circle cx="352.00" cy="571.60" r="2.25" fill="#fff" stroke="#a6c9e9" stroke-width="1.05"/>
<circle cx="357.50" cy="576.00" r="2.25" fill="#fff" stroke="#a6c9e9" stroke-width="1.05"/>
<circle cx="359.90" cy="574.80" r="2.25" fill="#fff" stroke="#a6c9e9" stroke-width="1.05"/>
<circle cx="354.00" cy="582.20" r="2.25" fill="#fff" stroke="#a6c9e9" stroke-width="1.05"/>
<circle cx="356.60" cy="583.40" r="2.25" fill="#fff" stroke="#a6c9e9" stroke-width="1.05"/>
<circle cx="360.40" cy="584.80" r="2.25" fill="#fff" stroke="#a6c9e9" stroke-width="1.05"/>
<circle cx="364.50" cy="591.40" r="2.25" fill="#fff" stroke="#a6c9e9" stroke-width="1.05"/>
<circle cx="365.20" cy="593.20" r="2.25" fill="#fff" stroke="#a6c9e9" stroke-width="1.05"/>
<circle cx="368.30" cy="576.90" r="2.25" fill="#fff" stroke="#a6c9e9" stroke-width="1.05"/>
<circle cx="373.60" cy="572.20" r="2.25" fill="#fff" stroke="#a6c9e9" stroke-width="1.05"/>
<circle cx="375.70" cy="564.60" r="2.25" fill="#fff" stroke="#a6c9e9" stroke-width="1.05"/>
<circle cx="373.60" cy="588.60" r="2.25" fill="#fff" stroke="#a6c9e9" stroke-width="1.05"/>
<circle cx="374.50" cy="591.40" r="2.25" fill="#fff" stroke="#a6c9e9" stroke-width="1.05"/>
<circle cx="378.00" cy="583.90" r="2.25" fill="#fff" stroke="#a6c9e9" stroke-width="1.05"/>
<circle cx="380.90" cy="578.10" r="2.25" fill="#fff" stroke="#a6c9e9" stroke-width="1.05"/>
<circle cx="384.60" cy="580.90" r="2.25" fill="#fff" stroke="#a6c9e9" stroke-width="1.05"/>
<circle cx="382.00" cy="597.90" r="2.25" fill="#fff" stroke="#a6c9e9" stroke-width="1.05"/>
<circle cx="369.70" cy="603.20" r="2.25" fill="#fff" stroke="#a6c9e9" stroke-width="1.05"/>
<circle cx="371.80" cy="607.20" r="2.25" fill="#fff" stroke="#a6c9e9" stroke-width="1.05"/>
<circle cx="365.70" cy="608.80" r="2.25" fill="#fff" stroke="#a6c9e9" stroke-width="1.05"/>
<circle cx="389.00" cy="606.30" r="2.25" fill="#fff" stroke="#a6c9e9" stroke-width="1.05"/>
<circle cx="392.50" cy="587.80" r="2.25" fill="#fff" stroke="#a6c9e9" stroke-width="1.05"/>
<circle cx="394.30" cy="592.10" r="2.25" fill="#fff" stroke="#a6c9e9" stroke-width="1.05"/>
<circle cx="320.70" cy="618.10" r="2.25" fill="#fff" stroke="#a6c9e9" stroke-width="1.05"/>
<circle cx="322.80" cy="584.40" r="2.25" fill="#fff" stroke="#a6c9e9" stroke-width="1.05"/>
<circle cx="438.30" cy="586.00" r="2.25" fill="#fff" stroke="#a6c9e9" stroke-width="1.05"/>
<text x="307.70" y="542.20" font-size="13.1" fill="#111" text-anchor="start" textLength="103.80" lengthAdjust="spacingAndGlyphs" xml:space="preserve">r=-0.0978 <tspan font-style="italic">p</tspan>=0.376</text>
<text transform="translate(247.80,607.10) rotate(-90)" font-size="12.5" text-anchor="middle" textLength="94.90" lengthAdjust="spacingAndGlyphs">log<tspan font-size="8.75" dy="2.6">2</tspan><tspan dy="-2.6">FC via qPCR</tspan></text>
<text x="327.10" y="678.10" font-size="12.3" fill="#111" text-anchor="start" textLength="65.00" lengthAdjust="spacingAndGlyphs" xml:space="preserve">Scr(μmol/L)</text>
<line x1="501.20" y1="550.40" x2="501.20" y2="664.80" stroke="#111" stroke-width="1.4" stroke-linecap="butt"/>
<line x1="496.20" y1="551.00" x2="501.20" y2="551.00" stroke="#111" stroke-width="1.3" stroke-linecap="butt"/>
<text x="494.90" y="554.42" font-size="9.5" text-anchor="end" fill="#111" stroke="#111" >10</text>
<line x1="496.20" y1="573.64" x2="501.20" y2="573.64" stroke="#111" stroke-width="1.3" stroke-linecap="butt"/>
<text x="494.90" y="577.06" font-size="9.5" text-anchor="end" fill="#111" stroke="#111" >5</text>
<line x1="496.20" y1="596.28" x2="501.20" y2="596.28" stroke="#111" stroke-width="1.3" stroke-linecap="butt"/>
<text x="494.90" y="599.70" font-size="9.5" text-anchor="end" fill="#111" stroke="#111" >0</text>
<line x1="496.20" y1="618.92" x2="501.20" y2="618.92" stroke="#111" stroke-width="1.3" stroke-linecap="butt"/>
<text x="494.90" y="622.34" font-size="9.5" text-anchor="end" fill="#111" stroke="#111" >-5</text>
<line x1="496.20" y1="641.56" x2="501.20" y2="641.56" stroke="#111" stroke-width="1.3" stroke-linecap="butt"/>
<text x="494.90" y="644.98" font-size="9.5" text-anchor="end" fill="#111" stroke="#111" >-10</text>
<line x1="496.20" y1="664.20" x2="501.20" y2="664.20" stroke="#111" stroke-width="1.3" stroke-linecap="butt"/>
<text x="494.90" y="667.62" font-size="9.5" text-anchor="end" fill="#111" stroke="#111" >-15</text>
<line x1="496.20" y1="596.20" x2="671.70" y2="596.20" stroke="#111" stroke-width="1.5" stroke-linecap="butt"/>
<line x1="543.80" y1="596.20" x2="543.80" y2="591.20" stroke="#111" stroke-width="1.3" stroke-linecap="butt"/>
<text x="543.80" y="607.40" font-size="9.5" text-anchor="middle" fill="#111" stroke="#111" >5</text>
<line x1="586.20" y1="596.20" x2="586.20" y2="591.20" stroke="#111" stroke-width="1.3" stroke-linecap="butt"/>
<text x="586.20" y="607.40" font-size="9.5" text-anchor="middle" fill="#111" stroke="#111" >10</text>
<line x1="629.00" y1="596.20" x2="629.00" y2="591.20" stroke="#111" stroke-width="1.3" stroke-linecap="butt"/>
<text x="629.00" y="607.40" font-size="9.5" text-anchor="middle" fill="#111" stroke="#111" >15</text>
<line x1="671.70" y1="596.20" x2="671.70" y2="591.20" stroke="#111" stroke-width="1.3" stroke-linecap="butt"/>
<text x="671.70" y="607.40" font-size="9.5" text-anchor="middle" fill="#111" stroke="#111" >20</text>
<line x1="526.30" y1="586.30" x2="596.20" y2="585.90" stroke="#7c9cb9" stroke-width="1.1" stroke-linecap="butt"/>
<circle cx="527.60" cy="565.90" r="2.25" fill="#fff" stroke="#a6c9e9" stroke-width="1.05"/>
<circle cx="535.50" cy="566.20" r="2.25" fill="#fff" stroke="#a6c9e9" stroke-width="1.05"/>
<circle cx="536.40" cy="568.10" r="2.25" fill="#fff" stroke="#a6c9e9" stroke-width="1.05"/>
<circle cx="542.10" cy="564.90" r="2.25" fill="#fff" stroke="#a6c9e9" stroke-width="1.05"/>
<circle cx="542.60" cy="565.50" r="2.25" fill="#fff" stroke="#a6c9e9" stroke-width="1.05"/>
<circle cx="561.40" cy="561.30" r="2.25" fill="#fff" stroke="#a6c9e9" stroke-width="1.05"/>
<circle cx="557.80" cy="565.20" r="2.25" fill="#fff" stroke="#a6c9e9" stroke-width="1.05"/>
<circle cx="556.50" cy="571.80" r="2.25" fill="#fff" stroke="#a6c9e9" stroke-width="1.05"/>
<circle cx="542.10" cy="572.10" r="2.25" fill="#fff" stroke="#a6c9e9" stroke-width="1.05"/>
<circle cx="574.50" cy="564.90" r="2.25" fill="#fff" stroke="#a6c9e9" stroke-width="1.05"/>
<circle cx="575.80" cy="571.40" r="2.25" fill="#fff" stroke="#a6c9e9" stroke-width="1.05"/>
<circle cx="577.50" cy="572.50" r="2.25" fill="#fff" stroke="#a6c9e9" stroke-width="1.05"/>
<circle cx="586.70" cy="573.00" r="2.25" fill="#fff" stroke="#a6c9e9" stroke-width="1.05"/>
<circle cx="586.70" cy="577.30" r="2.25" fill="#fff" stroke="#a6c9e9" stroke-width="1.05"/>
<circle cx="584.60" cy="580.60" r="2.25" fill="#fff" stroke="#a6c9e9" stroke-width="1.05"/>
<circle cx="591.00" cy="583.90" r="2.25" fill="#fff" stroke="#a6c9e9" stroke-width="1.05"/>
<circle cx="585.40" cy="586.10" r="2.25" fill="#fff" stroke="#a6c9e9" stroke-width="1.05"/>
<circle cx="595.90" cy="594.20" r="2.25" fill="#fff" stroke="#a6c9e9" stroke-width="1.05"/>
<circle cx="567.00" cy="578.60" r="2.25" fill="#fff" stroke="#a6c9e9" stroke-width="1.05"/>
<circle cx="572.60" cy="583.60" r="2.25" fill="#fff" stroke="#a6c9e9" stroke-width="1.05"/>
<circle cx="578.50" cy="588.90" r="2.25" fill="#fff" stroke="#a6c9e9" stroke-width="1.05"/>
<circle cx="572.60" cy="589.80" r="2.25" fill="#fff" stroke="#a6c9e9" stroke-width="1.05"/>
<circle cx="568.60" cy="593.80" r="2.25" fill="#fff" stroke="#a6c9e9" stroke-width="1.05"/>
<circle cx="564.00" cy="585.00" r="2.25" fill="#fff" stroke="#a6c9e9" stroke-width="1.05"/>
<circle cx="562.30" cy="589.40" r="2.25" fill="#fff" stroke="#a6c9e9" stroke-width="1.05"/>
<circle cx="560.10" cy="591.10" r="2.25" fill="#fff" stroke="#a6c9e9" stroke-width="1.05"/>
<circle cx="558.50" cy="579.70" r="2.25" fill="#fff" stroke="#a6c9e9" stroke-width="1.05"/>
<circle cx="555.20" cy="580.60" r="2.25" fill="#fff" stroke="#a6c9e9" stroke-width="1.05"/>
<circle cx="552.60" cy="575.00" r="2.25" fill="#fff" stroke="#a6c9e9" stroke-width="1.05"/>
<circle cx="550.20" cy="574.70" r="2.25" fill="#fff" stroke="#a6c9e9" stroke-width="1.05"/>
<circle cx="548.20" cy="575.40" r="2.25" fill="#fff" stroke="#a6c9e9" stroke-width="1.05"/>
<circle cx="551.50" cy="578.60" r="2.25" fill="#fff" stroke="#a6c9e9" stroke-width="1.05"/>
<circle cx="552.80" cy="581.90" r="2.25" fill="#fff" stroke="#a6c9e9" stroke-width="1.05"/>
<circle cx="556.10" cy="588.90" r="2.25" fill="#fff" stroke="#a6c9e9" stroke-width="1.05"/>
<circle cx="551.50" cy="591.10" r="2.25" fill="#fff" stroke="#a6c9e9" stroke-width="1.05"/>
<circle cx="546.90" cy="585.20" r="2.25" fill="#fff" stroke="#a6c9e9" stroke-width="1.05"/>
<circle cx="546.30" cy="589.20" r="2.25" fill="#fff" stroke="#a6c9e9" stroke-width="1.05"/>
<circle cx="543.00" cy="586.50" r="2.25" fill="#fff" stroke="#a6c9e9" stroke-width="1.05"/>
<circle cx="542.60" cy="580.20" r="2.25" fill="#fff" stroke="#a6c9e9" stroke-width="1.05"/>
<circle cx="539.70" cy="578.40" r="2.25" fill="#fff" stroke="#a6c9e9" stroke-width="1.05"/>
<circle cx="538.40" cy="582.60" r="2.25" fill="#fff" stroke="#a6c9e9" stroke-width="1.05"/>
<circle cx="537.10" cy="586.50" r="2.25" fill="#fff" stroke="#a6c9e9" stroke-width="1.05"/>
<circle cx="533.10" cy="583.90" r="2.25" fill="#fff" stroke="#a6c9e9" stroke-width="1.05"/>
<circle cx="532.50" cy="587.80" r="2.25" fill="#fff" stroke="#a6c9e9" stroke-width="1.05"/>
<circle cx="534.50" cy="591.10" r="2.25" fill="#fff" stroke="#a6c9e9" stroke-width="1.05"/>
<circle cx="538.40" cy="593.10" r="2.25" fill="#fff" stroke="#a6c9e9" stroke-width="1.05"/>
<circle cx="526.60" cy="580.00" r="2.25" fill="#fff" stroke="#a6c9e9" stroke-width="1.05"/>
<circle cx="529.90" cy="580.60" r="2.25" fill="#fff" stroke="#a6c9e9" stroke-width="1.05"/>
<circle cx="542.60" cy="597.70" r="2.25" fill="#fff" stroke="#a6c9e9" stroke-width="1.05"/>
<circle cx="539.70" cy="599.70" r="2.25" fill="#fff" stroke="#a6c9e9" stroke-width="1.05"/>
<circle cx="543.90" cy="600.70" r="2.25" fill="#fff" stroke="#a6c9e9" stroke-width="1.05"/>
<circle cx="548.20" cy="599.90" r="2.25" fill="#fff" stroke="#a6c9e9" stroke-width="1.05"/>
<circle cx="551.50" cy="596.80" r="2.25" fill="#fff" stroke="#a6c9e9" stroke-width="1.05"/>
<circle cx="551.30" cy="601.60" r="2.25" fill="#fff" stroke="#a6c9e9" stroke-width="1.05"/>
<circle cx="555.50" cy="598.10" r="2.25" fill="#fff" stroke="#a6c9e9" stroke-width="1.05"/>
<circle cx="545.60" cy="602.60" r="2.25" fill="#fff" stroke="#a6c9e9" stroke-width="1.05"/>
<circle cx="543.90" cy="604.30" r="2.25" fill="#fff" stroke="#a6c9e9" stroke-width="1.05"/>
<circle cx="540.40" cy="606.90" r="2.25" fill="#fff" stroke="#a6c9e9" stroke-width="1.05"/>
<circle cx="532.50" cy="600.30" r="2.25" fill="#fff" stroke="#a6c9e9" stroke-width="1.05"/>
<circle cx="553.90" cy="610.20" r="2.25" fill="#fff" stroke="#a6c9e9" stroke-width="1.05"/>
<circle cx="558.40" cy="609.90" r="2.25" fill="#fff" stroke="#a6c9e9" stroke-width="1.05"/>
<circle cx="569.30" cy="609.10" r="2.25" fill="#fff" stroke="#a6c9e9" stroke-width="1.05"/>
<circle cx="573.20" cy="607.30" r="2.25" fill="#fff" stroke="#a6c9e9" stroke-width="1.05"/>
<circle cx="583.30" cy="603.60" r="2.25" fill="#fff" stroke="#a6c9e9" stroke-width="1.05"/>
<circle cx="534.20" cy="618.30" r="2.25" fill="#fff" stroke="#a6c9e9" stroke-width="1.05"/>
<text x="536.20" y="542.50" font-size="13.1" fill="#111" text-anchor="start" textLength="99.60" lengthAdjust="spacingAndGlyphs" xml:space="preserve">r=0.0153 <tspan font-style="italic">p</tspan>=0.890</text>
<text transform="translate(474.80,607.10) rotate(-90)" font-size="12.5" text-anchor="middle" textLength="94.90" lengthAdjust="spacingAndGlyphs">log<tspan font-size="8.75" dy="2.6">2</tspan><tspan dy="-2.6">FC via qPCR</tspan></text>
<text x="550.30" y="677.80" font-size="12.3" fill="#111" text-anchor="start" textLength="72.30" lengthAdjust="spacingAndGlyphs" xml:space="preserve">Bun(mmol/L)</text>
<line x1="61.60" y1="861.00" x2="197.10" y2="725.40" stroke="#555" stroke-width="1.3" stroke-linecap="butt"/>
<polyline points="61.60,861.00 61.60,858.88 61.69,858.88 61.69,856.75 61.78,856.75 61.78,854.63 61.87,854.63 61.87,852.50 61.96,852.50 61.96,850.38 62.05,850.38 62.05,848.25 62.14,848.25 62.14,846.19 62.33,846.19 62.33,844.13 62.52,844.13 62.52,842.07 62.71,842.07 62.71,840.01 62.90,840.01 62.90,837.95 63.09,837.95 63.09,835.91 64.17,835.91 64.17,833.88 65.26,833.88 65.26,831.98 65.63,831.98 65.63,830.08 66.00,830.08 66.00,828.18 66.38,828.18 66.38,826.29 66.75,826.29 66.75,825.34 69.19,825.34 69.19,823.27 69.97,823.27 69.97,821.20 70.75,821.20 70.75,819.13 71.53,819.13 71.53,817.07 72.30,817.07 72.30,816.84 74.16,816.84 74.16,816.61 76.01,816.61 76.01,816.39 77.86,816.39 77.86,814.22 80.16,814.22 80.16,812.05 82.47,812.05 82.47,810.33 84.54,810.33 84.54,808.61 86.62,808.61 86.62,806.90 88.70,806.90 88.70,805.65 90.73,805.65 90.73,804.40 92.77,804.40 92.77,803.15 94.80,803.15 94.80,801.91 96.83,801.91 96.83,800.66 98.86,800.66 98.86,799.91 100.90,799.91 100.90,799.17 102.93,799.17 102.93,798.42 104.96,798.42 104.96,797.67 106.99,797.67 106.99,795.28 107.67,795.28 107.67,792.88 108.35,792.88 108.35,790.49 109.03,790.49 109.03,788.59 110.31,788.59 110.31,786.69 111.60,786.69 111.60,786.56 113.53,786.56 113.53,786.42 115.46,786.42 115.46,786.28 117.39,786.28 117.39,786.15 119.32,786.15 119.32,783.62 120.00,783.62 120.00,781.09 120.68,781.09 120.68,778.56 121.36,778.56 121.36,778.56 130.98,778.56 130.98,776.28 131.60,776.28 131.60,774.00 132.22,774.00 132.22,771.72 132.85,771.72 132.85,769.44 133.47,769.44 133.47,767.16 134.09,767.16 134.09,764.32 136.94,764.32 136.94,764.32 142.49,764.32 142.49,762.25 142.63,762.25 142.63,760.18 142.76,760.18 142.76,758.11 142.90,758.11 142.90,756.05 143.04,756.05 143.04,754.96 145.75,754.96 145.75,752.88 146.33,752.88 146.33,750.80 146.92,750.80 146.92,748.72 147.51,748.72 147.51,747.10 150.22,747.10 150.22,746.55 152.25,746.55 152.25,746.01 154.28,746.01 154.28,745.47 156.31,745.47 156.31,744.93 158.35,744.93 158.35,744.82 160.65,744.82 160.65,744.71 162.95,744.71 162.95,744.60 165.26,744.60 165.26,744.49 167.56,744.49 167.56,744.38 169.86,744.38 169.86,742.35 170.05,742.35 170.05,740.32 170.23,740.32 170.23,738.28 170.41,738.28 170.41,735.71 173.12,735.71 173.12,734.96 175.56,734.96 175.56,734.21 177.99,734.21 177.99,733.13 179.76,733.13 179.76,732.27 181.92,732.27 181.92,731.41 184.09,731.41 184.09,730.55 186.26,730.55 186.26,730.24 188.47,730.24 188.47,729.92 190.69,729.92 190.69,729.60 192.90,729.60 192.90,728.32 194.80,728.32 194.80,727.03 196.69,727.03 196.69,725.40 197.10,725.40" fill="none" stroke="#4a7fcc" stroke-width="1.45" stroke-linejoin="miter"/>
<polyline points="61.60,861.00 61.60,858.82 61.66,858.82 61.66,856.64 61.73,856.64 61.73,854.46 61.79,854.46 61.79,852.29 61.85,852.29 61.85,850.11 61.92,850.11 61.92,847.93 61.98,847.93 61.98,845.75 62.04,845.75 62.04,843.57 62.11,843.57 62.11,841.39 62.17,841.39 62.17,839.21 62.23,839.21 62.23,837.03 62.30,837.03 62.30,834.86 62.36,834.86 62.36,832.68 62.42,832.68 62.42,830.50 62.49,830.50 62.49,828.32 62.55,828.32 62.55,826.11 62.61,826.11 62.61,823.89 62.67,823.89 62.67,821.68 62.73,821.68 62.73,819.46 62.79,819.46 62.79,817.25 62.85,817.25 62.85,815.03 62.91,815.03 62.91,812.82 62.97,812.82 62.97,810.60 63.03,810.60 63.03,808.39 63.09,808.39 63.09,807.64 65.39,807.64 65.39,806.90 67.70,806.90 67.70,806.53 69.55,806.53 69.55,806.17 71.40,806.17 71.40,805.81 73.25,805.81 73.25,802.69 73.25,802.69 73.25,802.59 75.69,802.59 75.69,802.49 78.13,802.49 78.13,802.39 80.57,802.39 80.57,802.29 83.01,802.29 83.01,800.39 83.33,800.39 83.33,798.49 83.64,798.49 83.64,796.59 83.96,796.59 83.96,795.10 86.33,795.10 86.33,793.61 88.70,793.61 88.70,792.79 90.46,792.79 90.46,791.98 92.22,791.98 92.22,789.61 92.97,789.61 92.97,787.23 93.71,787.23 93.71,784.66 95.27,784.66 95.27,782.08 96.83,782.08 96.83,782.08 99.27,782.08 99.27,779.94 100.00,779.94 100.00,777.80 100.73,777.80 100.73,775.65 101.46,775.65 101.46,773.51 102.20,773.51 102.20,771.37 102.93,771.37 102.93,770.89 104.96,770.89 104.96,770.42 106.99,770.42 106.99,768.11 109.03,768.11 109.03,765.81 111.06,765.81 111.06,763.59 112.46,763.59 112.46,761.38 113.86,761.38 113.86,759.16 115.26,759.16 115.26,758.98 117.29,758.98 117.29,758.80 119.32,758.80 119.32,758.62 121.36,758.62 121.36,756.05 123.86,756.05 123.86,753.47 126.37,753.47 126.37,751.23 127.45,751.23 127.45,748.99 128.54,748.99 128.54,746.49 130.57,746.49 130.57,743.98 132.60,743.98 132.60,743.30 134.77,743.30 134.77,742.62 136.94,742.62 136.94,741.94 139.11,741.94 139.11,741.27 141.27,741.27 141.27,740.59 143.44,740.59 143.44,739.91 145.61,739.91 145.61,738.99 147.94,738.99 147.94,738.07 150.27,738.07 150.27,737.14 152.60,737.14 152.60,736.22 154.93,736.22 154.93,735.30 157.26,735.30 157.26,733.35 158.75,733.35 158.75,731.39 160.24,731.39 160.24,729.44 161.73,729.44 161.73,727.49 163.22,727.49 163.22,725.54 164.72,725.54 164.72,725.54 191.82,725.54 191.82,725.47 194.46,725.47 194.46,725.40 197.10,725.40" fill="none" stroke="#1fb46e" stroke-width="1.45" stroke-linejoin="miter"/>
<polyline points="61.60,861.00 61.60,858.02 62.55,858.02 62.55,855.71 62.68,855.71 62.68,853.41 62.82,853.41 62.82,851.10 62.95,851.10 62.95,848.80 63.09,848.80 63.09,846.49 63.56,846.49 63.56,844.19 64.04,844.19 64.04,841.61 65.60,841.61 65.60,839.03 67.16,839.03 67.16,837.00 68.17,837.00 68.17,834.96 69.19,834.96 69.19,832.82 69.70,832.82 69.70,830.68 70.22,830.68 70.22,828.54 70.73,828.54 70.73,826.39 71.25,826.39 71.25,824.25 71.76,824.25 71.76,822.76 73.80,822.76 73.80,820.86 75.15,820.86 75.15,818.96 76.50,818.96 76.50,817.07 77.86,817.07 77.86,814.56 79.22,814.56 79.22,812.05 80.57,812.05 80.57,810.12 81.04,810.12 81.04,808.18 81.52,808.18 81.52,806.25 81.99,806.25 81.99,804.32 82.47,804.32 82.47,803.23 85.58,803.23 85.58,801.38 86.26,801.38 86.26,799.53 86.94,799.53 86.94,797.67 87.62,797.67 87.62,795.91 88.16,795.91 88.16,794.15 88.70,794.15 88.70,791.03 90.73,791.03 90.73,782.08 90.73,782.08 90.73,779.10 92.77,779.10 92.77,778.56 95.34,778.56 95.34,776.60 95.42,776.60 95.42,774.65 95.50,774.65 95.50,772.70 95.58,772.70 95.58,770.74 95.66,770.74 95.66,768.79 95.75,768.79 95.75,768.25 98.32,768.25 98.32,766.40 98.50,766.40 98.50,764.54 98.68,764.54 98.68,762.69 98.86,762.69 98.86,761.20 100.90,761.20 100.90,759.16 103.33,759.16 103.33,758.89 105.26,758.89 105.26,758.62 107.20,758.62 107.20,758.35 109.13,758.35 109.13,758.08 111.06,758.08 111.06,755.10 113.09,755.10 113.09,753.27 113.36,753.27 113.36,751.44 113.63,751.44 113.63,751.44 125.01,751.44 125.01,751.03 127.45,751.03 127.45,748.90 128.09,748.90 128.09,746.78 128.72,746.78 128.72,744.66 129.35,744.66 129.35,743.98 131.38,743.98 131.38,743.30 133.41,743.30 133.41,742.62 135.45,742.62 135.45,741.94 137.48,741.94 137.48,741.27 139.51,741.27 139.51,740.59 141.54,740.59 141.54,739.91 143.58,739.91 143.58,739.33 145.78,739.33 145.78,738.76 147.98,738.76 147.98,738.18 150.18,738.18 150.18,737.60 152.38,737.60 152.38,737.03 154.59,737.03 154.59,736.45 156.79,736.45 156.79,735.88 158.99,735.88 158.99,735.30 161.19,735.30 161.19,733.85 163.72,733.85 163.72,732.41 166.25,732.41 166.25,730.96 168.78,730.96 168.78,730.80 171.01,730.80 171.01,730.65 173.23,730.65 173.23,730.49 175.46,730.49 175.46,730.34 177.68,730.34 177.68,730.18 179.91,730.18 179.91,730.03 182.14,730.03 182.14,729.87 184.36,729.87 184.36,728.79 184.36,728.79 184.36,728.45 186.49,728.45 186.49,728.11 188.61,728.11 188.61,727.77 190.73,727.77 190.73,727.43 192.85,727.43 192.85,727.10 194.98,727.10 194.98,726.76 197.10,726.76 197.10,725.40 197.10,725.40" fill="none" stroke="#d9424a" stroke-width="1.45" stroke-linejoin="miter"/>
<polyline points="61.60,861.00 61.60,861.00 62.14,861.00 62.14,806.35 62.14,806.35 62.14,803.23 63.09,803.23 63.09,801.02 63.41,801.02 63.41,798.80 63.72,798.80 63.72,796.59 64.04,796.59 64.04,796.27 66.48,796.27 66.48,795.96 68.92,795.96 68.92,795.64 71.36,795.64 71.36,794.15 72.85,794.15 72.85,792.32 73.05,792.32 73.05,790.49 73.25,790.49 73.25,788.41 74.29,788.41 74.29,786.33 75.33,786.33 75.33,784.25 76.37,784.25 76.37,782.35 78.40,782.35 78.40,782.35 84.50,782.35 84.50,776.93 84.50,776.93 84.50,775.57 87.07,775.57 87.07,773.27 87.34,773.27 87.34,770.96 87.62,770.96 87.62,768.66 87.85,768.66 87.85,766.35 88.09,766.35 88.09,764.05 88.33,764.05 88.33,761.74 88.56,761.74 88.56,759.91 89.65,759.91 89.65,758.08 90.73,758.08 90.73,756.59 93.04,756.59 93.04,755.10 95.34,755.10 95.34,755.10 104.96,755.10 104.96,752.52 107.53,752.52 107.53,749.94 110.11,749.94 110.11,748.66 112.68,748.66 112.68,747.37 115.26,747.37 115.26,747.29 117.48,747.29 117.48,747.20 119.70,747.20 119.70,747.12 121.92,747.12 121.92,747.04 124.15,747.04 124.15,746.96 126.37,746.96 126.37,743.84 128.54,743.84 128.54,743.84 157.81,743.84 157.81,742.40 160.11,742.40 160.11,740.95 162.41,740.95 162.41,739.50 164.72,739.50 164.72,737.37 165.73,737.37 165.73,735.23 166.75,735.23 166.75,733.10 167.76,733.10 167.76,730.96 168.78,730.96 168.78,730.57 170.87,730.57 170.87,730.17 172.97,730.17 172.97,729.78 175.06,729.78 175.06,729.38 177.16,729.38 177.16,728.99 179.25,728.99 179.25,728.59 181.35,728.59 181.35,728.20 183.44,728.20 183.44,727.80 185.53,727.80 185.53,727.41 187.63,727.41 187.63,727.01 189.72,727.01 189.72,726.62 191.82,726.62 191.82,726.35 194.46,726.35 194.46,726.08 197.10,726.08 197.10,725.40 197.10,725.40" fill="none" stroke="#a5a5a5" stroke-width="1.45" stroke-linejoin="miter"/>
<line x1="61.60" y1="724.50" x2="61.60" y2="861.80" stroke="#111" stroke-width="1.7" stroke-linecap="butt"/>
<line x1="60.80" y1="861.00" x2="197.90" y2="861.00" stroke="#111" stroke-width="1.7" stroke-linecap="butt"/>
<line x1="55.60" y1="861.00" x2="61.60" y2="861.00" stroke="#111" stroke-width="1.5" stroke-linecap="butt"/>
<text x="53.60" y="864.70" font-size="10.1" text-anchor="end" fill="#111" stroke="#111" >0</text>
<line x1="61.60" y1="861.00" x2="61.60" y2="867.00" stroke="#111" stroke-width="1.5" stroke-linecap="butt"/>
<text x="61.60" y="877.70" font-size="10.1" text-anchor="middle" fill="#111" stroke="#111" >0</text>
<line x1="55.60" y1="833.88" x2="61.60" y2="833.88" stroke="#111" stroke-width="1.5" stroke-linecap="butt"/>
<text x="53.60" y="837.58" font-size="10.1" text-anchor="end" fill="#111" stroke="#111" >20</text>
<line x1="88.70" y1="861.00" x2="88.70" y2="867.00" stroke="#111" stroke-width="1.5" stroke-linecap="butt"/>
<text x="88.70" y="877.70" font-size="10.1" text-anchor="middle" fill="#111" stroke="#111" >20</text>
<line x1="55.60" y1="806.76" x2="61.60" y2="806.76" stroke="#111" stroke-width="1.5" stroke-linecap="butt"/>
<text x="53.60" y="810.46" font-size="10.1" text-anchor="end" fill="#111" stroke="#111" >40</text>
<line x1="115.80" y1="861.00" x2="115.80" y2="867.00" stroke="#111" stroke-width="1.5" stroke-linecap="butt"/>
<text x="115.80" y="877.70" font-size="10.1" text-anchor="middle" fill="#111" stroke="#111" >40</text>
<line x1="55.60" y1="779.64" x2="61.60" y2="779.64" stroke="#111" stroke-width="1.5" stroke-linecap="butt"/>
<text x="53.60" y="783.34" font-size="10.1" text-anchor="end" fill="#111" stroke="#111" >60</text>
<line x1="142.90" y1="861.00" x2="142.90" y2="867.00" stroke="#111" stroke-width="1.5" stroke-linecap="butt"/>
<text x="142.90" y="877.70" font-size="10.1" text-anchor="middle" fill="#111" stroke="#111" >60</text>
<line x1="55.60" y1="752.52" x2="61.60" y2="752.52" stroke="#111" stroke-width="1.5" stroke-linecap="butt"/>
<text x="53.60" y="756.22" font-size="10.1" text-anchor="end" fill="#111" stroke="#111" >80</text>
<line x1="170.00" y1="861.00" x2="170.00" y2="867.00" stroke="#111" stroke-width="1.5" stroke-linecap="butt"/>
<text x="170.00" y="877.70" font-size="10.1" text-anchor="middle" fill="#111" stroke="#111" >80</text>
<line x1="55.60" y1="725.40" x2="61.60" y2="725.40" stroke="#111" stroke-width="1.5" stroke-linecap="butt"/>
<text x="53.60" y="729.10" font-size="10.1" text-anchor="end" fill="#111" stroke="#111" >100</text>
<line x1="197.10" y1="861.00" x2="197.10" y2="867.00" stroke="#111" stroke-width="1.5" stroke-linecap="butt"/>
<text x="197.10" y="877.70" font-size="10.1" text-anchor="middle" fill="#111" stroke="#111" >100</text>
<text transform="translate(27.2,792.2) rotate(-90)" font-size="13" text-anchor="middle" xml:space="preserve">Sensitivity  (%)</text>
<text x="129.80" y="896.20" font-size="13" text-anchor="middle" fill="#111" stroke="#111" xml:space="preserve">1 - Specificity  (%)</text>
<line x1="208.00" y1="717.00" x2="222.60" y2="717.00" stroke="#d9424a" stroke-width="1.6" stroke-linecap="butt"/>
<text x="231.00" y="721.00" font-size="11" text-anchor="start" fill="#111" stroke="#111" >RSDR</text>
<line x1="208.00" y1="734.70" x2="222.60" y2="734.70" stroke="#a5a5a5" stroke-width="1.6" stroke-linecap="butt"/>
<text x="231.00" y="738.70" font-size="11" text-anchor="start" fill="#111" stroke="#111" >Bun</text>
<line x1="208.00" y1="753.00" x2="222.60" y2="753.00" stroke="#1fb46e" stroke-width="1.6" stroke-linecap="butt"/>
<text x="231.00" y="757.00" font-size="11" text-anchor="start" fill="#111" stroke="#111" >Scr</text>
<line x1="208.00" y1="771.50" x2="222.60" y2="771.50" stroke="#4a7fcc" stroke-width="1.6" stroke-linecap="butt"/>
<text x="231.00" y="775.50" font-size="11" text-anchor="start" fill="#111" stroke="#111" >eGFR</text>
<text x="185.40" y="804.00" font-size="13" text-anchor="start" fill="#e03a3a" stroke="#e03a3a" >AUC=0.7495</text>
<text x="185.40" y="818.60" font-size="13" text-anchor="start" fill="#18b418" stroke="#18b418" >AUC=0.7648</text>
<text x="185.40" y="833.40" font-size="13" text-anchor="start" fill="#a8a8a8" stroke="#a8a8a8" >AUC=0.8126</text>
<text x="185.40" y="847.80" font-size="13" text-anchor="start" fill="#4a7cc8" stroke="#4a7cc8" >AUC=0.6373</text>
<line x1="293.00" y1="730.00" x2="685.00" y2="730.00" stroke="#111" stroke-width="1.7" stroke-linecap="butt"/>
<line x1="293.00" y1="756.30" x2="685.00" y2="756.30" stroke="#111" stroke-width="1.7" stroke-linecap="butt"/>
<line x1="293.00" y1="880.70" x2="685.00" y2="880.70" stroke="#111" stroke-width="1.7" stroke-linecap="butt"/>
<text x="425.00" y="747.80" font-size="13.6" text-anchor="middle" fill="#111" stroke="#111" >RSDR</text>
<text x="496.50" y="747.80" font-size="13.6" text-anchor="middle" fill="#111" stroke="#111" >Scr</text>
<text x="568.80" y="747.80" font-size="13.6" text-anchor="middle" fill="#111" stroke="#111" >Bun</text>
<text x="644.70" y="747.80" font-size="13.6" text-anchor="middle" fill="#111" stroke="#111" >eGFR</text>
<text x="340.80" y="774.00" font-size="13.6" text-anchor="middle" fill="#111" stroke="#111" >AUC</text>
<text x="425.00" y="774.00" font-size="13.6" text-anchor="middle" fill="#111" stroke="#111" >0.7495</text>
<text x="496.50" y="774.00" font-size="13.6" text-anchor="middle" fill="#111" stroke="#111" >0.7468</text>
<text x="568.80" y="774.00" font-size="13.6" text-anchor="middle" fill="#111" stroke="#111" >0.8126</text>
<text x="644.70" y="774.00" font-size="13.6" text-anchor="middle" fill="#111" stroke="#111" >0.6373</text>
<text x="340.80" y="812.60" font-size="13.6" text-anchor="middle" fill="#111" stroke="#111" >Sensitivity</text>
<text x="340.80" y="829.60" font-size="13.6" text-anchor="middle" fill="#111" stroke="#111" >(%)</text>
<text x="425.00" y="812.60" font-size="13.6" text-anchor="middle" fill="#111" stroke="#111" >72.46</text>
<text x="496.50" y="812.60" font-size="13.6" text-anchor="middle" fill="#111" stroke="#111" >66.67</text>
<text x="568.80" y="812.60" font-size="13.6" text-anchor="middle" fill="#111" stroke="#111" >76.81</text>
<text x="644.70" y="812.60" font-size="13.6" text-anchor="middle" fill="#111" stroke="#111" >55.07</text>
<text x="340.80" y="855.00" font-size="13.6" text-anchor="middle" fill="#111" stroke="#111" >Specificity</text>
<text x="340.80" y="871.60" font-size="13.6" text-anchor="middle" fill="#111" stroke="#111" >(%)</text>
<text x="425.00" y="855.00" font-size="13.6" text-anchor="middle" fill="#111" stroke="#111" >72.62</text>
<text x="496.50" y="855.00" font-size="13.6" text-anchor="middle" fill="#111" stroke="#111" >69.05</text>
<text x="568.80" y="855.00" font-size="13.6" text-anchor="middle" fill="#111" stroke="#111" >77.38</text>
<text x="644.70" y="855.00" font-size="13.6" text-anchor="middle" fill="#111" stroke="#111" >63.10</text>
</svg></body></html>
